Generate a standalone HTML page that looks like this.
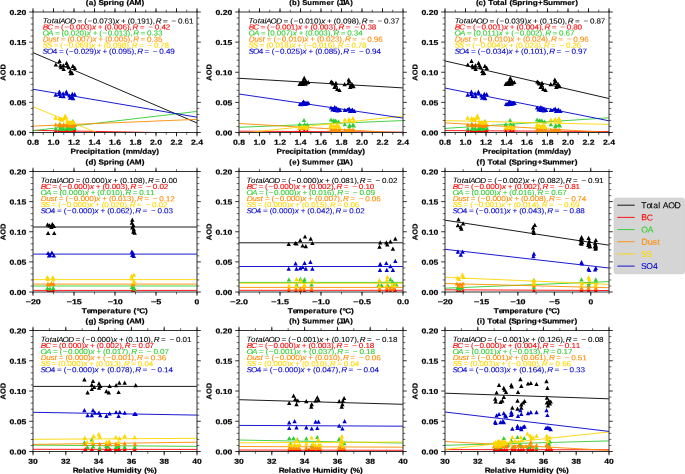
<!DOCTYPE html>
<html><head><meta charset="utf-8"><style>html,body{margin:0;padding:0;background:#fff;overflow:hidden}svg{display:block}text{white-space:pre}</style></head><body>
<svg width="685" height="474" viewBox="0 0 685 474" font-family="Liberation Sans, sans-serif">
<rect width="685" height="474" fill="#fff"/>
<filter id="bl" x="0" y="0" width="1" height="1"><feGaussianBlur stdDeviation="0.3"/></filter>
<g filter="url(#bl)">
<defs>
<clipPath id="c0"><rect x="33" y="12" width="164" height="120.5"/></clipPath>
<clipPath id="c1"><rect x="239" y="12" width="164" height="120.5"/></clipPath>
<clipPath id="c2"><rect x="445" y="12" width="164" height="120.5"/></clipPath>
<clipPath id="c3"><rect x="33" y="171.5" width="164" height="120.5"/></clipPath>
<clipPath id="c4"><rect x="239" y="171.5" width="164" height="120.5"/></clipPath>
<clipPath id="c5"><rect x="445" y="171.5" width="164" height="120.5"/></clipPath>
<clipPath id="c6"><rect x="33" y="330.5" width="164" height="121"/></clipPath>
<clipPath id="c7"><rect x="239" y="330.5" width="164" height="121"/></clipPath>
<clipPath id="c8"><rect x="445" y="330.5" width="164" height="121"/></clipPath>
</defs>
<g clip-path="url(#c0)">
<path fill="#000000" stroke="#000000" stroke-width="0.0" d="M55.8 62.4L53.6 66.6L58 66.6ZM59.5 58.7L57.3 62.9L61.7 62.9ZM60.3 63.4L58.1 67.6L62.5 67.6ZM61.1 65L58.9 69.2L63.3 69.2ZM63.4 63.2L61.2 67.4L65.6 67.4ZM63.7 66.9L61.5 71.1L65.9 71.1ZM66.6 60.8L64.4 65L68.8 65ZM67.4 63.4L65.2 67.6L69.6 67.6ZM68.7 65L66.5 69.2L70.9 69.2ZM70.3 68.7L68.1 72.9L72.5 72.9ZM70.8 71.1L68.6 75.3L73 75.3ZM72.9 63.7L70.7 67.9L75.1 67.9ZM74.8 65.8L72.6 70L77 70ZM72.1 70.8L69.9 75L74.3 75Z"/>
<line x1="33" y1="52.61" x2="197" y2="122.98" stroke="#000000" stroke-width="0.9"/>
<path fill="#ff0000" stroke="#ff0000" stroke-width="0.0" d="M55.8 128.5L53.6 132.7L58 132.7ZM59.5 128.5L57.3 132.7L61.7 132.7ZM60.3 128.5L58.1 132.7L62.5 132.7ZM61.1 128.5L58.9 132.7L63.3 132.7ZM63.4 128.5L61.2 132.7L65.6 132.7ZM63.7 128.5L61.5 132.7L65.9 132.7ZM66.6 128.5L64.4 132.7L68.8 132.7ZM67.4 128.5L65.2 132.7L69.6 132.7ZM68.7 128.5L66.5 132.7L70.9 132.7ZM70.3 128.5L68.1 132.7L72.5 132.7ZM70.8 128.5L68.6 132.7L73 132.7ZM72.9 128.5L70.7 132.7L75.1 132.7ZM74.8 128.5L72.6 132.7L77 132.7ZM72.1 128.5L69.9 132.7L74.3 132.7Z"/>
<line x1="33" y1="130.33" x2="197" y2="133.22" stroke="#ff0000" stroke-width="0.9"/>
<path fill="#32cd32" stroke="#32cd32" stroke-width="0.0" d="M55.8 126.4L53.6 130.6L58 130.6ZM59.5 122.1L57.3 126.3L61.7 126.3ZM60.3 125.9L58.1 130.1L62.5 130.1ZM61.1 126.7L58.9 130.9L63.3 130.9ZM63.4 126.1L61.2 130.3L65.6 130.3ZM63.7 126.7L61.5 130.9L65.9 130.9ZM66.6 125.9L64.4 130.1L68.8 130.1ZM67.4 126.4L65.2 130.6L69.6 130.6ZM68.7 126.1L66.5 130.3L70.9 130.3ZM70.3 126.7L68.1 130.9L72.5 130.9ZM70.8 125.4L68.6 129.6L73 129.6ZM72.9 119.1L70.7 123.3L75.1 123.3ZM74.8 125.9L72.6 130.1L77 130.1ZM72.1 126.4L69.9 130.6L74.3 130.6Z"/>
<line x1="33" y1="130.69" x2="197" y2="111.41" stroke="#32cd32" stroke-width="0.9"/>
<path fill="#ff8c00" stroke="#ff8c00" stroke-width="0.0" d="M55.8 122.4L53.6 126.6L58 126.6ZM59.5 122.9L57.3 127.1L61.7 127.1ZM60.3 122.2L58.1 126.4L62.5 126.4ZM61.1 123.4L58.9 127.6L63.3 127.6ZM63.4 122.9L61.2 127.1L65.6 127.1ZM63.7 122.2L61.5 126.4L65.9 126.4ZM66.6 123.4L64.4 127.6L68.8 127.6ZM67.4 122.7L65.2 126.9L69.6 126.9ZM68.7 123.1L66.5 127.3L70.9 127.3ZM70.3 122.4L68.1 126.6L72.5 126.6ZM70.8 123.4L68.6 127.6L73 127.6ZM72.9 121.9L70.7 126.1L75.1 126.1ZM74.8 122.9L72.6 127.1L77 127.1ZM72.1 123.7L69.9 127.9L74.3 127.9Z"/>
<line x1="33" y1="126.11" x2="197" y2="119.37" stroke="#ff8c00" stroke-width="0.9"/>
<path fill="#ffd700" stroke="#ffd700" stroke-width="0.0" d="M55.6 115.5L53.4 119.7L57.8 119.7ZM59.6 116L57.4 120.2L61.8 120.2ZM60.6 117.3L58.4 121.5L62.8 121.5ZM65.2 113.5L63 117.7L67.4 117.7ZM66.2 115.2L64 119.4L68.4 119.4ZM64.2 115.5L62 119.7L66.4 119.7ZM69.3 120.1L67.1 124.3L71.5 124.3ZM71.3 120.3L69.1 124.5L73.5 124.5ZM73.8 120.3L71.6 124.5L76 124.5ZM62.7 117.5L60.5 121.7L64.9 121.7ZM72.3 119.6L70.1 123.8L74.5 123.8ZM70.3 120.6L68.1 124.8L72.5 124.8ZM67.2 119.6L65 123.8L69.4 123.8ZM61.7 117L59.5 121.2L63.9 121.2Z"/>
<line x1="33" y1="106.71" x2="197" y2="173.23" stroke="#ffd700" stroke-width="0.9"/>
<path fill="#0000cd" stroke="#0000cd" stroke-width="0.0" d="M55.7 92.5L53.5 96.7L57.9 96.7ZM59.4 89.5L57.2 93.7L61.6 93.7ZM59.2 91.7L57 95.9L61.4 95.9ZM60.5 93.9L58.3 98.1L62.7 98.1ZM63.1 91.2L60.9 95.4L65.3 95.4ZM63.6 94.1L61.4 98.3L65.8 98.3ZM66.4 89.5L64.2 93.7L68.6 93.7ZM66.9 91.2L64.7 95.4L69.1 95.4ZM69.3 93.4L67.1 97.6L71.5 97.6ZM70.1 95.6L67.9 99.8L72.3 99.8ZM71.9 94.7L69.7 98.9L74.1 98.9ZM72.3 91.7L70.1 95.9L74.5 95.9ZM74.7 92.1L72.5 96.3L76.9 96.3ZM73.2 96L71 100.2L75.4 100.2Z"/>
<line x1="33" y1="89.24" x2="197" y2="117.2" stroke="#0000cd" stroke-width="0.9"/>
</g>
<rect x="33" y="12" width="164" height="120.5" fill="none" stroke="#333" stroke-width="1.0"/>
<path d="M33 132.5v3.8M33 12v-3.8M53.5 132.5v3.8M53.5 12v-3.8M74 132.5v3.8M74 12v-3.8M94.5 132.5v3.8M94.5 12v-3.8M115 132.5v3.8M115 12v-3.8M135.5 132.5v3.8M135.5 12v-3.8M156 132.5v3.8M156 12v-3.8M176.5 132.5v3.8M176.5 12v-3.8M197 132.5v3.8M197 12v-3.8M33 132.5h-3.8M197 132.5h3.8M33 102.38h-3.8M197 102.38h3.8M33 72.25h-3.8M197 72.25h3.8M33 42.12h-3.8M197 42.12h3.8M33 12h-3.8M197 12h3.8" stroke="#000" stroke-width="0.8" fill="none"/>
<path d="M33 132.5v2.3M33 12v-2.3M43.25 132.5v2.3M43.25 12v-2.3M53.5 132.5v2.3M53.5 12v-2.3M63.75 132.5v2.3M63.75 12v-2.3M74 132.5v2.3M74 12v-2.3M84.25 132.5v2.3M84.25 12v-2.3M94.5 132.5v2.3M94.5 12v-2.3M104.75 132.5v2.3M104.75 12v-2.3M115 132.5v2.3M115 12v-2.3M125.25 132.5v2.3M125.25 12v-2.3M135.5 132.5v2.3M135.5 12v-2.3M145.75 132.5v2.3M145.75 12v-2.3M156 132.5v2.3M156 12v-2.3M166.25 132.5v2.3M166.25 12v-2.3M176.5 132.5v2.3M176.5 12v-2.3M186.75 132.5v2.3M186.75 12v-2.3M197 132.5v2.3M197 12v-2.3M33 126.47h-2.3M197 126.47h2.3M33 120.45h-2.3M197 120.45h2.3M33 114.42h-2.3M197 114.42h2.3M33 108.4h-2.3M197 108.4h2.3M33 96.35h-2.3M197 96.35h2.3M33 90.32h-2.3M197 90.32h2.3M33 84.3h-2.3M197 84.3h2.3M33 78.28h-2.3M197 78.28h2.3M33 66.23h-2.3M197 66.23h2.3M33 60.2h-2.3M197 60.2h2.3M33 54.17h-2.3M197 54.17h2.3M33 48.15h-2.3M197 48.15h2.3M33 36.1h-2.3M197 36.1h2.3M33 30.08h-2.3M197 30.08h2.3M33 24.05h-2.3M197 24.05h2.3M33 18.03h-2.3M197 18.03h2.3" stroke="#000" stroke-width="0.6" fill="none"/>
<text y="144.7" font-size="7.21" fill="#000" stroke="#000" stroke-width="0.2" transform="matrix(1.20219 0.00100 0 1 -5.4544 -0.0306)"><tspan x="26.94 30.99 33.02" font-weight="bold">0.8</tspan></text>
<text y="144.7" font-size="7.21" fill="#000" stroke="#000" stroke-width="0.2" transform="matrix(1.20219 0.00100 0 1 -9.5993 -0.0511)"><tspan x="47.44 51.49 53.52" font-weight="bold">1.0</tspan></text>
<text y="144.7" font-size="7.21" fill="#000" stroke="#000" stroke-width="0.2" transform="matrix(1.20219 0.00100 0 1 -13.7442 -0.0716)"><tspan x="67.94 71.99 74.02" font-weight="bold">1.2</tspan></text>
<text y="144.7" font-size="7.21" fill="#000" stroke="#000" stroke-width="0.2" transform="matrix(1.20219 0.00100 0 1 -17.8891 -0.0921)"><tspan x="88.44 92.49 94.52" font-weight="bold">1.4</tspan></text>
<text y="144.7" font-size="7.21" fill="#000" stroke="#000" stroke-width="0.2" transform="matrix(1.20219 0.00100 0 1 -22.0339 -0.1126)"><tspan x="108.94 112.99 115.02" font-weight="bold">1.6</tspan></text>
<text y="144.7" font-size="7.21" fill="#000" stroke="#000" stroke-width="0.2" transform="matrix(1.20219 0.00100 0 1 -26.1788 -0.1331)"><tspan x="129.44 133.49 135.52" font-weight="bold">1.8</tspan></text>
<text y="144.7" font-size="7.21" fill="#000" stroke="#000" stroke-width="0.2" transform="matrix(1.20219 0.00100 0 1 -30.3237 -0.1536)"><tspan x="149.94 153.99 156.02" font-weight="bold">2.0</tspan></text>
<text y="144.7" font-size="7.21" fill="#000" stroke="#000" stroke-width="0.2" transform="matrix(1.20219 0.00100 0 1 -34.4686 -0.1741)"><tspan x="170.44 174.49 176.52" font-weight="bold">2.2</tspan></text>
<text y="144.7" font-size="7.21" fill="#000" stroke="#000" stroke-width="0.2" transform="matrix(1.20219 0.00100 0 1 -38.6134 -0.1946)"><tspan x="190.94 194.99 197.02" font-weight="bold">2.4</tspan></text>
<text y="135.5" font-size="7.21" fill="#000" stroke="#000" stroke-width="0.2" transform="matrix(1.19592 0.00100 0 1 -1.8657 -0.0155)"><tspan x="9.5 13.56 15.61 19.57" font-weight="bold">0.00</tspan></text>
<text y="105.38" font-size="7.21" fill="#000" stroke="#000" stroke-width="0.2" transform="matrix(1.19592 0.00100 0 1 -1.8657 -0.0155)"><tspan x="9.5 13.56 15.61 19.57" font-weight="bold">0.05</tspan></text>
<text y="75.25" font-size="7.21" fill="#000" stroke="#000" stroke-width="0.2" transform="matrix(1.19592 0.00100 0 1 -1.8657 -0.0155)"><tspan x="9.5 13.56 15.61 19.57" font-weight="bold">0.10</tspan></text>
<text y="45.12" font-size="7.21" fill="#000" stroke="#000" stroke-width="0.2" transform="matrix(1.19592 0.00100 0 1 -1.8657 -0.0155)"><tspan x="9.5 13.56 15.61 19.57" font-weight="bold">0.15</tspan></text>
<text y="15" font-size="7.21" fill="#000" stroke="#000" stroke-width="0.2" transform="matrix(1.19592 0.00100 0 1 -1.8657 -0.0155)"><tspan x="9.5 13.56 15.61 19.57" font-weight="bold">0.20</tspan></text>
<text y="153.8" font-size="7.21" fill="#000" stroke="#000" stroke-width="0.2" transform="matrix(1.13876 0.00100 0 1 -9.8272 -0.1134)"><tspan x="70.6 75.27 78.16 81.96 85.75 87.71 92.07 94.33 96.96 101.21 103.86 105.73 109.91 116.48 118.95 125.17 131.58 133.61 137.96 141.92 145.85" font-weight="bold">Precipitation(mm/day)</tspan></text>
<text y="5" font-size="7.21" fill="#000" stroke="#000" stroke-width="0.2" transform="matrix(1.13776 0.00100 0 1 -11.7824 -0.1134)"><tspan x="85.69 88.27 92.46 96.85 101.35 105.76 108.66 110.61 114.88 121.46 123.74 128.63 134.77" font-weight="bold">(a)Spring(AM)</tspan></text>
<g transform="translate(5.6 72.25) rotate(-90)"><text y="0" font-size="7.21" fill="#000" stroke="#000" stroke-width="0.2" transform="matrix(1.04186 0.00100 0 1 0.3492 0.0028)"><tspan x="-8.42 -3.32 2.36" font-weight="bold">AOD</tspan></text></g>
<text y="23.45" font-size="7.31" fill="#000000" stroke="#000000" stroke-width="0.08" transform="matrix(1.10676 0.00100 0 1 -4.5906 -0.1160)"><tspan x="42.67 46.68 50.83 52.94 56.94 58.31 62.49 67.55" font-style="italic">TotalAOD</tspan><tspan x="74.28 80.24 83.15 87.85 91.84 93.8 97.77 101.73 105.75">=(−0.073)</tspan><tspan x="108.2" font-style="italic">x</tspan><tspan x="113.56 119.52 121.91 125.9 127.85 131.82 135.79 139.8 142.21">+(0.191),</tspan><tspan x="144.96" font-style="italic">R</tspan><tspan x="151.46 159.11 165.02 169.01 170.97 174.93">=−0.61</tspan></text>
<text y="29.5" font-size="7.31" fill="#ff0000" stroke="#ff0000" stroke-width="0.08" transform="matrix(1.11736 0.00100 0 1 -5.0464 -0.1044)"><tspan x="42.68 46.75" font-style="italic">BC</tspan><tspan x="53.2 59.12 61.99 66.64 70.61 72.53 76.46 80.39 84.38">=(−0.003)</tspan><tspan x="86.8" font-style="italic">x</tspan><tspan x="92.11 98.02 100.37 104.34 106.27 110.2 114.12 118.11 120.5">+(0.006),</tspan><tspan x="123.2" font-style="italic">R</tspan><tspan x="129.64 137.22 143.08 147.04 148.97 152.9">=−0.42</tspan></text>
<text y="35.55" font-size="7.31" fill="#32cd32" stroke="#32cd32" stroke-width="0.08" transform="matrix(1.10865 0.00100 0 1 -4.6719 -0.1005)"><tspan x="42.6 47.59" font-style="italic">OA</tspan><tspan x="53.84 59.79 62.17 66.16 68.11 72.07 76.03 80.04">=(0.020)</tspan><tspan x="82.48" font-style="italic">x</tspan><tspan x="87.84 93.79 96.69 101.38 105.37 107.32 111.28 115.24 119.25 121.65">+(−0.013),</tspan><tspan x="124.39" font-style="italic">R</tspan><tspan x="130.88 136.78 140.77 142.72 146.68">=0.33</tspan></text>
<text y="41.6" font-size="7.31" fill="#ff8c00" stroke="#ff8c00" stroke-width="0.08" transform="matrix(1.10696 0.00100 0 1 -4.5994 -0.1005)"><tspan x="42.76 47.74 51.55 55.2" font-style="italic">Dust</tspan><tspan x="59.13 65.09 67.47 71.47 73.42 77.39 81.35 85.37">=(0.007)</tspan><tspan x="87.82" font-style="italic">x</tspan><tspan x="93.18 99.14 101.52 105.51 107.47 111.44 115.4 119.42 121.83">+(0.005),</tspan><tspan x="124.57" font-style="italic">R</tspan><tspan x="131.07 136.98 140.97 142.92 146.89">=0.35</tspan></text>
<text y="47.65" font-size="7.31" fill="#ffd700" stroke="#ffd700" stroke-width="0.08" transform="matrix(1.11404 0.00100 0 1 -4.9037 -0.1038)"><tspan x="42.53 46.46" font-style="italic">SS</tspan><tspan x="52.53 58.46 61.34 66.01 69.98 71.92 75.86 79.8 83.79">=(−0.069)</tspan><tspan x="86.22" font-style="italic">x</tspan><tspan x="91.55 97.48 99.84 103.81 105.75 109.69 113.63 117.63 120.02">+(0.098),</tspan><tspan x="122.74" font-style="italic">R</tspan><tspan x="129.2 136.8 142.67 146.65 148.1 152.04">=−0.78</tspan></text>
<text y="53.7" font-size="7.31" fill="#0000cd" stroke="#0000cd" stroke-width="0.08" transform="matrix(1.11410 0.00100 0 1 -4.9063 -0.1067)"><tspan x="42.53 46.52" font-style="italic">SO</tspan><tspan x="51.74 57.41 63.34 66.22 70.89 74.86 76.8 80.74 84.57 88.57">4=(−0.029)</tspan><tspan x="91" font-style="italic">x</tspan><tspan x="96.32 102.25 104.61 108.59 110.52 114.46 118.4 122.4 124.79">+(0.095),</tspan><tspan x="127.51" font-style="italic">R</tspan><tspan x="133.97 141.57 147.44 151.42 153.35 157.29">=−0.49</tspan></text>
<g clip-path="url(#c1)">
<path fill="#000000" stroke="#000000" stroke-width="0.0" d="M304.2 75.7L302 79.9L306.4 79.9ZM303.2 78.2L301 82.4L305.4 82.4ZM305.6 78.2L303.4 82.4L307.8 82.4ZM301 80.7L298.8 84.9L303.2 84.9ZM303.8 80.7L301.6 84.9L306 84.9ZM306.6 80.3L304.4 84.5L308.8 84.5ZM299.6 81.7L297.4 85.9L301.8 85.9ZM308.2 79.9L306 84.1L310.4 84.1ZM302.5 81.9L300.3 86.1L304.7 86.1ZM305.5 81.5L303.3 85.7L307.7 85.7ZM331.2 79.4L329 83.6L333.4 83.6ZM333.2 81.4L331 85.6L335.4 85.6ZM335.9 80.7L333.7 84.9L338.1 84.9ZM334.5 84.8L332.3 89L336.7 89ZM337.2 86.8L335 91L339.4 91ZM339.5 87.9L337.3 92.1L341.7 92.1ZM336 83.4L333.8 87.6L338.2 87.6ZM332.5 80.4L330.3 84.6L334.7 84.6ZM344.7 82.1L342.5 86.3L346.9 86.3ZM348.7 77.4L346.5 81.6L350.9 81.6ZM348.3 80.7L346.1 84.9L350.5 84.9ZM350.8 82.8L348.6 87L353 87ZM353.5 84.1L351.3 88.3L355.7 88.3ZM350.2 84.8L348 89L352.4 89ZM352 81.9L349.8 86.1L354.2 86.1ZM349.5 78.9L347.3 83.1L351.7 83.1Z"/>
<line x1="239" y1="78.28" x2="403" y2="87.91" stroke="#000000" stroke-width="0.9"/>
<path fill="#ff0000" stroke="#ff0000" stroke-width="0.0" d="M299.7 128.9L297.5 133.1L301.9 133.1ZM304 128.9L301.8 133.1L306.2 133.1ZM304.5 128.9L302.3 133.1L306.7 133.1ZM307.3 128.9L305.1 133.1L309.5 133.1ZM331 128.9L328.8 133.1L333.2 133.1ZM333.4 128.9L331.2 133.1L335.6 133.1ZM335.8 128.9L333.6 133.1L338 133.1ZM334.8 128.9L332.6 133.1L337 133.1ZM338.6 128.9L336.4 133.1L340.8 133.1ZM344.8 128.9L342.6 133.1L347 133.1ZM349.1 128.9L346.9 133.1L351.3 133.1ZM349.6 128.9L347.4 133.1L351.8 133.1ZM352.9 128.9L350.7 133.1L355.1 133.1ZM353.8 128.9L351.6 133.1L356 133.1Z"/>
<line x1="239" y1="131.17" x2="403" y2="132.14" stroke="#ff0000" stroke-width="0.9"/>
<path fill="#32cd32" stroke="#32cd32" stroke-width="0.0" d="M299.7 122.1L297.5 126.3L301.9 126.3ZM304 117.9L301.8 122.1L306.2 122.1ZM304.5 121.9L302.3 126.1L306.7 126.1ZM307.3 122.4L305.1 126.6L309.5 126.6ZM331 117.4L328.8 121.6L333.2 121.6ZM333.4 118.2L331.2 122.4L335.6 122.4ZM335.8 118.4L333.6 122.6L338 122.6ZM334.8 118.9L332.6 123.1L337 123.1ZM338.6 119.4L336.4 123.6L340.8 123.6ZM344.8 122.1L342.6 126.3L347 126.3ZM349.1 124L346.9 128.2L351.3 128.2ZM349.6 122.9L347.4 127.1L351.8 127.1ZM352.9 122.6L350.7 126.8L355.1 126.8ZM353.8 123.4L351.6 127.6L356 127.6Z"/>
<line x1="239" y1="127.32" x2="403" y2="120.57" stroke="#32cd32" stroke-width="0.9"/>
<path fill="#ff8c00" stroke="#ff8c00" stroke-width="0.0" d="M299.7 125.9L297.5 130.1L301.9 130.1ZM304 125.4L301.8 129.6L306.2 129.6ZM304.5 125.9L302.3 130.1L306.7 130.1ZM307.3 125.6L305.1 129.8L309.5 129.8ZM331 127.4L328.8 131.6L333.2 131.6ZM333.4 127.9L331.2 132.1L335.6 132.1ZM335.8 126.9L333.6 131.1L338 131.1ZM334.8 128.4L332.6 132.6L337 132.6ZM338.6 127.9L336.4 132.1L340.8 132.1ZM344.8 127.9L342.6 132.1L347 132.1ZM349.1 127.4L346.9 131.6L351.3 131.6ZM349.6 128.4L347.4 132.6L351.8 132.6ZM352.9 127.7L350.7 131.9L355.1 131.9ZM353.8 128.2L351.6 132.4L356 132.4ZM302 126.1L299.8 130.3L304.2 130.3ZM306 125.9L303.8 130.1L308.2 130.1ZM332 128.4L329.8 132.6L334.2 132.6ZM336 128.5L333.8 132.7L338.2 132.7ZM340 128.3L337.8 132.5L342.2 132.5ZM347 128.4L344.8 132.6L349.2 132.6ZM351 128.3L348.8 132.5L353.2 132.5Z"/>
<line x1="239" y1="123.46" x2="403" y2="133.1" stroke="#ff8c00" stroke-width="0.9"/>
<path fill="#ffd700" stroke="#ffd700" stroke-width="0.0" d="M299.7 125.4L297.5 129.6L301.9 129.6ZM304 124.7L301.8 128.9L306.2 128.9ZM304.5 125.1L302.3 129.3L306.7 129.3ZM307.3 125.7L305.1 129.9L309.5 129.9ZM331 122.4L328.8 126.6L333.2 126.6ZM333.4 123.4L331.2 127.6L335.6 127.6ZM335.8 123.9L333.6 128.1L338 128.1ZM334.8 124.9L332.6 129.1L337 129.1ZM338.6 123.7L336.4 127.9L340.8 127.9ZM344.8 117.4L342.6 121.6L347 121.6ZM349.1 116.9L346.9 121.1L351.3 121.1ZM349.6 118.4L347.4 122.6L351.8 122.6ZM352.9 116L350.7 120.2L355.1 120.2ZM353.8 118.9L351.6 123.1L356 123.1ZM302 125.1L299.8 129.3L304.2 129.3ZM306 125.2L303.8 129.4L308.2 129.4ZM330.5 124.4L328.3 128.6L332.7 128.6ZM337 122.9L334.8 127.1L339.2 127.1ZM339.5 124.9L337.3 129.1L341.7 129.1Z"/>
<line x1="239" y1="133.46" x2="403" y2="116.11" stroke="#ffd700" stroke-width="0.9"/>
<path fill="#0000cd" stroke="#0000cd" stroke-width="0.0" d="M300 101.7L297.8 105.9L302.2 105.9ZM302.5 100.7L300.3 104.9L304.7 104.9ZM303.5 99.4L301.3 103.6L305.7 103.6ZM305 100.4L302.8 104.6L307.2 104.6ZM307 100.4L304.8 104.6L309.2 104.6ZM308.5 100.9L306.3 105.1L310.7 105.1ZM301.5 102.1L299.3 106.3L303.7 106.3ZM304.5 101.7L302.3 105.9L306.7 105.9ZM306.5 101.6L304.3 105.8L308.7 105.8ZM331 105.4L328.8 109.6L333.2 109.6ZM333 106.4L330.8 110.6L335.2 110.6ZM334.8 104.9L332.6 109.1L337 109.1ZM336.7 105.9L334.5 110.1L338.9 110.1ZM338.6 107.3L336.4 111.5L340.8 111.5ZM335 107.9L332.8 112.1L337.2 112.1ZM332.5 107.4L330.3 111.6L334.7 111.6ZM337.5 108.2L335.3 112.4L339.7 112.4ZM340 107.9L337.8 112.1L342.2 112.1ZM344.8 107.7L342.6 111.9L347 111.9ZM347.5 107.4L345.3 111.6L349.7 111.6ZM349.1 106.4L346.9 110.6L351.3 110.6ZM351 108.2L348.8 112.4L353.2 112.4ZM352.4 107.4L350.2 111.6L354.6 111.6ZM354.3 108.7L352.1 112.9L356.5 112.9ZM350 108.9L347.8 113.1L352.2 113.1Z"/>
<line x1="239" y1="94" x2="403" y2="118.1" stroke="#0000cd" stroke-width="0.9"/>
</g>
<rect x="239" y="12" width="164" height="120.5" fill="none" stroke="#333" stroke-width="1.0"/>
<path d="M239 132.5v3.8M239 12v-3.8M259.5 132.5v3.8M259.5 12v-3.8M280 132.5v3.8M280 12v-3.8M300.5 132.5v3.8M300.5 12v-3.8M321 132.5v3.8M321 12v-3.8M341.5 132.5v3.8M341.5 12v-3.8M362 132.5v3.8M362 12v-3.8M382.5 132.5v3.8M382.5 12v-3.8M403 132.5v3.8M403 12v-3.8M239 132.5h-3.8M403 132.5h3.8M239 102.38h-3.8M403 102.38h3.8M239 72.25h-3.8M403 72.25h3.8M239 42.12h-3.8M403 42.12h3.8M239 12h-3.8M403 12h3.8" stroke="#000" stroke-width="0.8" fill="none"/>
<path d="M239 132.5v2.3M239 12v-2.3M249.25 132.5v2.3M249.25 12v-2.3M259.5 132.5v2.3M259.5 12v-2.3M269.75 132.5v2.3M269.75 12v-2.3M280 132.5v2.3M280 12v-2.3M290.25 132.5v2.3M290.25 12v-2.3M300.5 132.5v2.3M300.5 12v-2.3M310.75 132.5v2.3M310.75 12v-2.3M321 132.5v2.3M321 12v-2.3M331.25 132.5v2.3M331.25 12v-2.3M341.5 132.5v2.3M341.5 12v-2.3M351.75 132.5v2.3M351.75 12v-2.3M362 132.5v2.3M362 12v-2.3M372.25 132.5v2.3M372.25 12v-2.3M382.5 132.5v2.3M382.5 12v-2.3M392.75 132.5v2.3M392.75 12v-2.3M403 132.5v2.3M403 12v-2.3M239 126.47h-2.3M403 126.47h2.3M239 120.45h-2.3M403 120.45h2.3M239 114.42h-2.3M403 114.42h2.3M239 108.4h-2.3M403 108.4h2.3M239 96.35h-2.3M403 96.35h2.3M239 90.32h-2.3M403 90.32h2.3M239 84.3h-2.3M403 84.3h2.3M239 78.28h-2.3M403 78.28h2.3M239 66.23h-2.3M403 66.23h2.3M239 60.2h-2.3M403 60.2h2.3M239 54.17h-2.3M403 54.17h2.3M239 48.15h-2.3M403 48.15h2.3M239 36.1h-2.3M403 36.1h2.3M239 30.08h-2.3M403 30.08h2.3M239 24.05h-2.3M403 24.05h2.3M239 18.03h-2.3M403 18.03h2.3" stroke="#000" stroke-width="0.6" fill="none"/>
<text y="144.7" font-size="7.21" fill="#000" stroke="#000" stroke-width="0.2" transform="matrix(1.20219 0.00100 0 1 -47.1054 -0.2366)"><tspan x="232.94 236.99 239.02" font-weight="bold">0.8</tspan></text>
<text y="144.7" font-size="7.21" fill="#000" stroke="#000" stroke-width="0.2" transform="matrix(1.20219 0.00100 0 1 -51.2502 -0.2571)"><tspan x="253.44 257.49 259.52" font-weight="bold">1.0</tspan></text>
<text y="144.7" font-size="7.21" fill="#000" stroke="#000" stroke-width="0.2" transform="matrix(1.20219 0.00100 0 1 -55.3951 -0.2776)"><tspan x="273.94 277.99 280.02" font-weight="bold">1.2</tspan></text>
<text y="144.7" font-size="7.21" fill="#000" stroke="#000" stroke-width="0.2" transform="matrix(1.20219 0.00100 0 1 -59.5400 -0.2981)"><tspan x="294.44 298.49 300.52" font-weight="bold">1.4</tspan></text>
<text y="144.7" font-size="7.21" fill="#000" stroke="#000" stroke-width="0.2" transform="matrix(1.20219 0.00100 0 1 -63.6849 -0.3186)"><tspan x="314.94 318.99 321.02" font-weight="bold">1.6</tspan></text>
<text y="144.7" font-size="7.21" fill="#000" stroke="#000" stroke-width="0.2" transform="matrix(1.20219 0.00100 0 1 -67.8297 -0.3391)"><tspan x="335.44 339.49 341.52" font-weight="bold">1.8</tspan></text>
<text y="144.7" font-size="7.21" fill="#000" stroke="#000" stroke-width="0.2" transform="matrix(1.20219 0.00100 0 1 -71.9746 -0.3596)"><tspan x="355.94 359.99 362.02" font-weight="bold">2.0</tspan></text>
<text y="144.7" font-size="7.21" fill="#000" stroke="#000" stroke-width="0.2" transform="matrix(1.20219 0.00100 0 1 -76.1195 -0.3801)"><tspan x="376.44 380.49 382.52" font-weight="bold">2.2</tspan></text>
<text y="144.7" font-size="7.21" fill="#000" stroke="#000" stroke-width="0.2" transform="matrix(1.20219 0.00100 0 1 -80.2643 -0.4006)"><tspan x="396.94 400.99 403.02" font-weight="bold">2.4</tspan></text>
<text y="135.5" font-size="7.21" fill="#000" stroke="#000" stroke-width="0.2" transform="matrix(1.19592 0.00100 0 1 -42.2261 -0.2215)"><tspan x="215.5 219.56 221.61 225.57" font-weight="bold">0.00</tspan></text>
<text y="105.38" font-size="7.21" fill="#000" stroke="#000" stroke-width="0.2" transform="matrix(1.19592 0.00100 0 1 -42.2261 -0.2215)"><tspan x="215.5 219.56 221.61 225.57" font-weight="bold">0.05</tspan></text>
<text y="75.25" font-size="7.21" fill="#000" stroke="#000" stroke-width="0.2" transform="matrix(1.19592 0.00100 0 1 -42.2261 -0.2215)"><tspan x="215.5 219.56 221.61 225.57" font-weight="bold">0.10</tspan></text>
<text y="45.12" font-size="7.21" fill="#000" stroke="#000" stroke-width="0.2" transform="matrix(1.19592 0.00100 0 1 -42.2261 -0.2215)"><tspan x="215.5 219.56 221.61 225.57" font-weight="bold">0.15</tspan></text>
<text y="15" font-size="7.21" fill="#000" stroke="#000" stroke-width="0.2" transform="matrix(1.19592 0.00100 0 1 -42.2261 -0.2215)"><tspan x="215.5 219.56 221.61 225.57" font-weight="bold">0.20</tspan></text>
<text y="153.8" font-size="7.21" fill="#000" stroke="#000" stroke-width="0.2" transform="matrix(1.13876 0.00100 0 1 -38.4126 -0.3194)"><tspan x="276.6 281.27 284.16 287.96 291.75 293.71 298.07 300.33 302.96 307.21 309.86 311.73 315.91 322.48 324.95 331.17 337.58 339.61 343.96 347.92 351.85" font-weight="bold">Precipitation(mm/day)</tspan></text>
<text y="5" font-size="7.21" fill="#000" stroke="#000" stroke-width="0.2" transform="matrix(1.06112 0.00100 0 1 -17.6566 -0.3194)"><tspan x="289.15 291.91 296.66 301.46 306.26 310.87 317.55 324.26 328.62 334.09 335.95 338.33 341.4 346.75" font-weight="bold">(b)Summer(JJA)</tspan></text>
<g transform="translate(211.6 72.25) rotate(-90)"><text y="0" font-size="7.21" fill="#000" stroke="#000" stroke-width="0.2" transform="matrix(1.04186 0.00100 0 1 0.3492 0.0028)"><tspan x="-8.42 -3.32 2.36" font-weight="bold">AOD</tspan></text></g>
<text y="23.45" font-size="7.31" fill="#000000" stroke="#000000" stroke-width="0.08" transform="matrix(1.10676 0.00100 0 1 -26.5829 -0.3220)"><tspan x="248.67 252.68 256.83 258.94 262.94 264.31 268.49 273.55" font-style="italic">TotalAOD</tspan><tspan x="280.28 286.24 289.15 293.85 297.84 299.8 303.77 307.73 311.75">=(−0.010)</tspan><tspan x="314.2" font-style="italic">x</tspan><tspan x="319.56 325.52 327.91 331.9 333.85 337.82 341.79 345.8 348.21">+(0.098),</tspan><tspan x="350.96" font-style="italic">R</tspan><tspan x="357.46 365.11 371.02 375.01 376.97 380.93">=−0.37</tspan></text>
<text y="29.5" font-size="7.31" fill="#ff0000" stroke="#ff0000" stroke-width="0.08" transform="matrix(1.11736 0.00100 0 1 -29.2224 -0.3104)"><tspan x="248.68 252.75" font-style="italic">BC</tspan><tspan x="259.2 265.12 267.99 272.64 276.61 278.53 282.46 286.39 290.38">=(−0.001)</tspan><tspan x="292.8" font-style="italic">x</tspan><tspan x="298.11 304.02 306.37 310.34 312.27 316.2 320.12 324.11 326.5">+(0.003),</tspan><tspan x="329.2" font-style="italic">R</tspan><tspan x="335.64 343.22 349.08 353.04 354.97 358.9">=−0.38</tspan></text>
<text y="35.55" font-size="7.31" fill="#32cd32" stroke="#32cd32" stroke-width="0.08" transform="matrix(1.09763 0.00100 0 1 -24.3098 -0.3036)"><tspan x="248.63 253.66" font-style="italic">OA</tspan><tspan x="259.97 265.97 268.38 272.4 274.38 278.38 282.38 286.42">=(0.007)</tspan><tspan x="288.9" font-style="italic">x</tspan><tspan x="294.31 300.31 302.72 306.74 308.72 312.72 316.72 320.76 323.19">+(0.003),</tspan><tspan x="325.97" font-style="italic">R</tspan><tspan x="332.52 338.48 342.49 344.48 348.48">=0.34</tspan></text>
<text y="41.6" font-size="7.31" fill="#ff8c00" stroke="#ff8c00" stroke-width="0.08" transform="matrix(1.12648 0.00100 0 1 -31.4928 -0.3137)"><tspan x="248.72 253.62 257.37 260.97" font-style="italic">Dust</tspan><tspan x="264.82 270.69 273.53 278.15 282.09 283.99 287.89 291.79 295.75">=(−0.010)</tspan><tspan x="298.14" font-style="italic">x</tspan><tspan x="303.41 309.28 311.61 315.55 317.45 321.35 325.24 329.2 331.57">+(0.023),</tspan><tspan x="334.24" font-style="italic">R</tspan><tspan x="340.64 348.16 353.97 357.91 359.81 363.71">=−0.96</tspan></text>
<text y="47.65" font-size="7.31" fill="#ffd700" stroke="#ffd700" stroke-width="0.08" transform="matrix(1.10364 0.00100 0 1 -25.8067 -0.3055)"><tspan x="248.55 252.51" font-style="italic">SS</tspan><tspan x="258.64 264.61 267.01 271.01 272.97 276.95 280.93 284.95">=(0.018)</tspan><tspan x="287.41" font-style="italic">x</tspan><tspan x="292.79 298.76 301.69 306.4 310.4 312.36 316.34 320.32 324.34 326.76">+(−0.016),</tspan><tspan x="329.51" font-style="italic">R</tspan><tspan x="336.03 341.96 345.96 347.44 351.42">=0.78</tspan></text>
<text y="53.7" font-size="7.31" fill="#0000cd" stroke="#0000cd" stroke-width="0.08" transform="matrix(1.11410 0.00100 0 1 -28.4108 -0.3128)"><tspan x="248.53 252.52" font-style="italic">SO</tspan><tspan x="257.74 263.41 269.34 272.22 276.89 280.86 282.8 286.74 290.68 294.68">4=(−0.025)</tspan><tspan x="297.11" font-style="italic">x</tspan><tspan x="302.43 308.36 310.72 314.69 316.63 320.57 324.51 328.51 330.9">+(0.085),</tspan><tspan x="333.62" font-style="italic">R</tspan><tspan x="340.08 347.68 353.55 357.52 359.46 363.4">=−0.94</tspan></text>
<g clip-path="url(#c2)">
<path fill="#000000" stroke="#000000" stroke-width="0.0" d="M467.8 62.4L465.6 66.6L470 66.6ZM471.5 58.7L469.3 62.9L473.7 62.9ZM472.3 63.4L470.1 67.6L474.5 67.6ZM473.1 65L470.9 69.2L475.3 69.2ZM475.4 63.2L473.2 67.4L477.6 67.4ZM475.7 66.9L473.5 71.1L477.9 71.1ZM478.6 60.8L476.4 65L480.8 65ZM479.4 63.4L477.2 67.6L481.6 67.6ZM480.7 65L478.5 69.2L482.9 69.2ZM482.3 68.7L480.1 72.9L484.5 72.9ZM482.8 71.1L480.6 75.3L485 75.3ZM484.9 63.7L482.7 67.9L487.1 67.9ZM486.8 65.8L484.6 70L489 70ZM484.1 70.8L481.9 75L486.3 75ZM510.3 75.7L508.1 79.9L512.5 79.9ZM509.3 78.2L507.1 82.4L511.5 82.4ZM511.7 78.2L509.5 82.4L513.9 82.4ZM507.1 80.7L504.9 84.9L509.3 84.9ZM509.9 80.7L507.7 84.9L512.1 84.9ZM512.7 80.3L510.5 84.5L514.9 84.5ZM505.7 81.7L503.5 85.9L507.9 85.9ZM514.3 79.9L512.1 84.1L516.5 84.1ZM508.6 81.9L506.4 86.1L510.8 86.1ZM511.6 81.5L509.4 85.7L513.8 85.7ZM537.3 79.4L535.1 83.6L539.5 83.6ZM539.3 81.4L537.1 85.6L541.5 85.6ZM542 80.7L539.8 84.9L544.2 84.9ZM540.6 84.8L538.4 89L542.8 89ZM543.3 86.8L541.1 91L545.5 91ZM545.6 87.9L543.4 92.1L547.8 92.1ZM542.1 83.4L539.9 87.6L544.3 87.6ZM538.6 80.4L536.4 84.6L540.8 84.6ZM550.8 82.1L548.6 86.3L553 86.3ZM554.8 77.4L552.6 81.6L557 81.6ZM554.4 80.7L552.2 84.9L556.6 84.9ZM556.9 82.8L554.7 87L559.1 87ZM559.6 84.1L557.4 88.3L561.8 88.3ZM556.3 84.8L554.1 89L558.5 89ZM558.1 81.9L555.9 86.1L560.3 86.1ZM555.6 78.9L553.4 83.1L557.8 83.1Z"/>
<line x1="445" y1="60.92" x2="609" y2="98.52" stroke="#000000" stroke-width="0.9"/>
<path fill="#ff0000" stroke="#ff0000" stroke-width="0.0" d="M467.8 128.5L465.6 132.7L470 132.7ZM471.5 128.5L469.3 132.7L473.7 132.7ZM472.3 128.5L470.1 132.7L474.5 132.7ZM473.1 128.5L470.9 132.7L475.3 132.7ZM475.4 128.5L473.2 132.7L477.6 132.7ZM475.7 128.5L473.5 132.7L477.9 132.7ZM478.6 128.5L476.4 132.7L480.8 132.7ZM479.4 128.5L477.2 132.7L481.6 132.7ZM480.7 128.5L478.5 132.7L482.9 132.7ZM482.3 128.5L480.1 132.7L484.5 132.7ZM482.8 128.5L480.6 132.7L485 132.7ZM484.9 128.5L482.7 132.7L487.1 132.7ZM486.8 128.5L484.6 132.7L489 132.7ZM484.1 128.5L481.9 132.7L486.3 132.7ZM505.8 128.9L503.6 133.1L508 133.1ZM510.1 128.9L507.9 133.1L512.3 133.1ZM510.6 128.9L508.4 133.1L512.8 133.1ZM513.4 128.9L511.2 133.1L515.6 133.1ZM537.1 128.9L534.9 133.1L539.3 133.1ZM539.5 128.9L537.3 133.1L541.7 133.1ZM541.9 128.9L539.7 133.1L544.1 133.1ZM540.9 128.9L538.7 133.1L543.1 133.1ZM544.7 128.9L542.5 133.1L546.9 133.1ZM550.9 128.9L548.7 133.1L553.1 133.1ZM555.2 128.9L553 133.1L557.4 133.1ZM555.7 128.9L553.5 133.1L557.9 133.1ZM559 128.9L556.8 133.1L561.2 133.1ZM559.9 128.9L557.7 133.1L562.1 133.1Z"/>
<line x1="445" y1="130.57" x2="609" y2="131.54" stroke="#ff0000" stroke-width="0.9"/>
<path fill="#32cd32" stroke="#32cd32" stroke-width="0.0" d="M467.8 126.4L465.6 130.6L470 130.6ZM471.5 122.1L469.3 126.3L473.7 126.3ZM472.3 125.9L470.1 130.1L474.5 130.1ZM473.1 126.7L470.9 130.9L475.3 130.9ZM475.4 126.1L473.2 130.3L477.6 130.3ZM475.7 126.7L473.5 130.9L477.9 130.9ZM478.6 125.9L476.4 130.1L480.8 130.1ZM479.4 126.4L477.2 130.6L481.6 130.6ZM480.7 126.1L478.5 130.3L482.9 130.3ZM482.3 126.7L480.1 130.9L484.5 130.9ZM482.8 125.4L480.6 129.6L485 129.6ZM484.9 119.1L482.7 123.3L487.1 123.3ZM486.8 125.9L484.6 130.1L489 130.1ZM484.1 126.4L481.9 130.6L486.3 130.6ZM505.8 122.1L503.6 126.3L508 126.3ZM510.1 117.9L507.9 122.1L512.3 122.1ZM510.6 121.9L508.4 126.1L512.8 126.1ZM513.4 122.4L511.2 126.6L515.6 126.6ZM537.1 117.4L534.9 121.6L539.3 121.6ZM539.5 118.2L537.3 122.4L541.7 122.4ZM541.9 118.4L539.7 122.6L544.1 122.6ZM540.9 118.9L538.7 123.1L543.1 123.1ZM544.7 119.4L542.5 123.6L546.9 123.6ZM550.9 122.1L548.7 126.3L553.1 126.3ZM555.2 124L553 128.2L557.4 128.2ZM555.7 122.9L553.5 127.1L557.9 127.1ZM559 122.6L556.8 126.8L561.2 126.8ZM559.9 123.4L557.7 127.6L562.1 127.6Z"/>
<line x1="445" y1="128.4" x2="609" y2="117.8" stroke="#32cd32" stroke-width="0.9"/>
<path fill="#ff8c00" stroke="#ff8c00" stroke-width="0.0" d="M467.8 122.4L465.6 126.6L470 126.6ZM471.5 122.9L469.3 127.1L473.7 127.1ZM472.3 122.2L470.1 126.4L474.5 126.4ZM473.1 123.4L470.9 127.6L475.3 127.6ZM475.4 122.9L473.2 127.1L477.6 127.1ZM475.7 122.2L473.5 126.4L477.9 126.4ZM478.6 123.4L476.4 127.6L480.8 127.6ZM479.4 122.7L477.2 126.9L481.6 126.9ZM480.7 123.1L478.5 127.3L482.9 127.3ZM482.3 122.4L480.1 126.6L484.5 126.6ZM482.8 123.4L480.6 127.6L485 127.6ZM484.9 121.9L482.7 126.1L487.1 126.1ZM486.8 122.9L484.6 127.1L489 127.1ZM484.1 123.7L481.9 127.9L486.3 127.9ZM505.8 125.9L503.6 130.1L508 130.1ZM510.1 125.4L507.9 129.6L512.3 129.6ZM510.6 125.9L508.4 130.1L512.8 130.1ZM513.4 125.6L511.2 129.8L515.6 129.8ZM537.1 127.4L534.9 131.6L539.3 131.6ZM539.5 127.9L537.3 132.1L541.7 132.1ZM541.9 126.9L539.7 131.1L544.1 131.1ZM540.9 128.4L538.7 132.6L543.1 132.6ZM544.7 127.9L542.5 132.1L546.9 132.1ZM550.9 127.9L548.7 132.1L553.1 132.1ZM555.2 127.4L553 131.6L557.4 131.6ZM555.7 128.4L553.5 132.6L557.9 132.6ZM559 127.7L556.8 131.9L561.2 131.9ZM559.9 128.2L557.7 132.4L562.1 132.4ZM508.1 126.1L505.9 130.3L510.3 130.3ZM512.1 125.9L509.9 130.1L514.3 130.1ZM538.1 128.4L535.9 132.6L540.3 132.6ZM542.1 128.5L539.9 132.7L544.3 132.7ZM546.1 128.3L543.9 132.5L548.3 132.5ZM553.1 128.4L550.9 132.6L555.3 132.6ZM557.1 128.3L554.9 132.5L559.3 132.5Z"/>
<line x1="445" y1="122.86" x2="609" y2="132.5" stroke="#ff8c00" stroke-width="0.9"/>
<path fill="#ffd700" stroke="#ffd700" stroke-width="0.0" d="M467.6 115.5L465.4 119.7L469.8 119.7ZM471.6 116L469.4 120.2L473.8 120.2ZM472.6 117.3L470.4 121.5L474.8 121.5ZM477.2 113.5L475 117.7L479.4 117.7ZM478.2 115.2L476 119.4L480.4 119.4ZM476.2 115.5L474 119.7L478.4 119.7ZM481.3 120.1L479.1 124.3L483.5 124.3ZM483.3 120.3L481.1 124.5L485.5 124.5ZM485.8 120.3L483.6 124.5L488 124.5ZM474.7 117.5L472.5 121.7L476.9 121.7ZM484.3 119.6L482.1 123.8L486.5 123.8ZM482.3 120.6L480.1 124.8L484.5 124.8ZM479.2 119.6L477 123.8L481.4 123.8ZM473.7 117L471.5 121.2L475.9 121.2ZM505.8 125.4L503.6 129.6L508 129.6ZM510.1 124.7L507.9 128.9L512.3 128.9ZM510.6 125.1L508.4 129.3L512.8 129.3ZM513.4 125.7L511.2 129.9L515.6 129.9ZM537.1 122.4L534.9 126.6L539.3 126.6ZM539.5 123.4L537.3 127.6L541.7 127.6ZM541.9 123.9L539.7 128.1L544.1 128.1ZM540.9 124.9L538.7 129.1L543.1 129.1ZM544.7 123.7L542.5 127.9L546.9 127.9ZM550.9 117.4L548.7 121.6L553.1 121.6ZM555.2 116.9L553 121.1L557.4 121.1ZM555.7 118.4L553.5 122.6L557.9 122.6ZM559 116L556.8 120.2L561.2 120.2ZM559.9 118.9L557.7 123.1L562.1 123.1ZM508.1 125.1L505.9 129.3L510.3 129.3ZM512.1 125.2L509.9 129.4L514.3 129.4ZM536.6 124.4L534.4 128.6L538.8 128.6ZM543.1 122.9L540.9 127.1L545.3 127.1ZM545.6 124.9L543.4 129.1L547.8 129.1Z"/>
<line x1="445" y1="120.57" x2="609" y2="124.43" stroke="#ffd700" stroke-width="0.9"/>
<path fill="#0000cd" stroke="#0000cd" stroke-width="0.0" d="M467.7 92.5L465.5 96.7L469.9 96.7ZM471.4 89.5L469.2 93.7L473.6 93.7ZM471.2 91.7L469 95.9L473.4 95.9ZM472.5 93.9L470.3 98.1L474.7 98.1ZM475.1 91.2L472.9 95.4L477.3 95.4ZM475.6 94.1L473.4 98.3L477.8 98.3ZM478.4 89.5L476.2 93.7L480.6 93.7ZM478.9 91.2L476.7 95.4L481.1 95.4ZM481.3 93.4L479.1 97.6L483.5 97.6ZM482.1 95.6L479.9 99.8L484.3 99.8ZM483.9 94.7L481.7 98.9L486.1 98.9ZM484.3 91.7L482.1 95.9L486.5 95.9ZM486.7 92.1L484.5 96.3L488.9 96.3ZM485.2 96L483 100.2L487.4 100.2ZM506.1 101.7L503.9 105.9L508.3 105.9ZM508.6 100.7L506.4 104.9L510.8 104.9ZM509.6 99.4L507.4 103.6L511.8 103.6ZM511.1 100.4L508.9 104.6L513.3 104.6ZM513.1 100.4L510.9 104.6L515.3 104.6ZM514.6 100.9L512.4 105.1L516.8 105.1ZM507.6 102.1L505.4 106.3L509.8 106.3ZM510.6 101.7L508.4 105.9L512.8 105.9ZM512.6 101.6L510.4 105.8L514.8 105.8ZM537.1 105.4L534.9 109.6L539.3 109.6ZM539.1 106.4L536.9 110.6L541.3 110.6ZM540.9 104.9L538.7 109.1L543.1 109.1ZM542.8 105.9L540.6 110.1L545 110.1ZM544.7 107.3L542.5 111.5L546.9 111.5ZM541.1 107.9L538.9 112.1L543.3 112.1ZM538.6 107.4L536.4 111.6L540.8 111.6ZM543.6 108.2L541.4 112.4L545.8 112.4ZM546.1 107.9L543.9 112.1L548.3 112.1ZM550.9 107.7L548.7 111.9L553.1 111.9ZM553.6 107.4L551.4 111.6L555.8 111.6ZM555.2 106.4L553 110.6L557.4 110.6ZM557.1 108.2L554.9 112.4L559.3 112.4ZM558.5 107.4L556.3 111.6L560.7 111.6ZM560.4 108.7L558.2 112.9L562.6 112.9ZM556.1 108.9L553.9 113.1L558.3 113.1Z"/>
<line x1="445" y1="88.04" x2="609" y2="120.81" stroke="#0000cd" stroke-width="0.9"/>
</g>
<rect x="445" y="12" width="164" height="120.5" fill="none" stroke="#333" stroke-width="1.0"/>
<path d="M445 132.5v3.8M445 12v-3.8M465.5 132.5v3.8M465.5 12v-3.8M486 132.5v3.8M486 12v-3.8M506.5 132.5v3.8M506.5 12v-3.8M527 132.5v3.8M527 12v-3.8M547.5 132.5v3.8M547.5 12v-3.8M568 132.5v3.8M568 12v-3.8M588.5 132.5v3.8M588.5 12v-3.8M609 132.5v3.8M609 12v-3.8M445 132.5h-3.8M609 132.5h3.8M445 102.38h-3.8M609 102.38h3.8M445 72.25h-3.8M609 72.25h3.8M445 42.12h-3.8M609 42.12h3.8M445 12h-3.8M609 12h3.8" stroke="#000" stroke-width="0.8" fill="none"/>
<path d="M445 132.5v2.3M445 12v-2.3M455.25 132.5v2.3M455.25 12v-2.3M465.5 132.5v2.3M465.5 12v-2.3M475.75 132.5v2.3M475.75 12v-2.3M486 132.5v2.3M486 12v-2.3M496.25 132.5v2.3M496.25 12v-2.3M506.5 132.5v2.3M506.5 12v-2.3M516.75 132.5v2.3M516.75 12v-2.3M527 132.5v2.3M527 12v-2.3M537.25 132.5v2.3M537.25 12v-2.3M547.5 132.5v2.3M547.5 12v-2.3M557.75 132.5v2.3M557.75 12v-2.3M568 132.5v2.3M568 12v-2.3M578.25 132.5v2.3M578.25 12v-2.3M588.5 132.5v2.3M588.5 12v-2.3M598.75 132.5v2.3M598.75 12v-2.3M609 132.5v2.3M609 12v-2.3M445 126.47h-2.3M609 126.47h2.3M445 120.45h-2.3M609 120.45h2.3M445 114.42h-2.3M609 114.42h2.3M445 108.4h-2.3M609 108.4h2.3M445 96.35h-2.3M609 96.35h2.3M445 90.32h-2.3M609 90.32h2.3M445 84.3h-2.3M609 84.3h2.3M445 78.28h-2.3M609 78.28h2.3M445 66.23h-2.3M609 66.23h2.3M445 60.2h-2.3M609 60.2h2.3M445 54.17h-2.3M609 54.17h2.3M445 48.15h-2.3M609 48.15h2.3M445 36.1h-2.3M609 36.1h2.3M445 30.08h-2.3M609 30.08h2.3M445 24.05h-2.3M609 24.05h2.3M445 18.03h-2.3M609 18.03h2.3" stroke="#000" stroke-width="0.6" fill="none"/>
<text y="144.7" font-size="7.21" fill="#000" stroke="#000" stroke-width="0.2" transform="matrix(1.20219 0.00100 0 1 -88.7563 -0.4426)"><tspan x="438.94 442.99 445.02" font-weight="bold">0.8</tspan></text>
<text y="144.7" font-size="7.21" fill="#000" stroke="#000" stroke-width="0.2" transform="matrix(1.20219 0.00100 0 1 -92.9012 -0.4631)"><tspan x="459.44 463.49 465.52" font-weight="bold">1.0</tspan></text>
<text y="144.7" font-size="7.21" fill="#000" stroke="#000" stroke-width="0.2" transform="matrix(1.20219 0.00100 0 1 -97.0460 -0.4836)"><tspan x="479.94 483.99 486.02" font-weight="bold">1.2</tspan></text>
<text y="144.7" font-size="7.21" fill="#000" stroke="#000" stroke-width="0.2" transform="matrix(1.20219 0.00100 0 1 -101.1909 -0.5041)"><tspan x="500.44 504.49 506.52" font-weight="bold">1.4</tspan></text>
<text y="144.7" font-size="7.21" fill="#000" stroke="#000" stroke-width="0.2" transform="matrix(1.20219 0.00100 0 1 -105.3358 -0.5246)"><tspan x="520.94 524.99 527.02" font-weight="bold">1.6</tspan></text>
<text y="144.7" font-size="7.21" fill="#000" stroke="#000" stroke-width="0.2" transform="matrix(1.20219 0.00100 0 1 -109.4806 -0.5451)"><tspan x="541.44 545.49 547.52" font-weight="bold">1.8</tspan></text>
<text y="144.7" font-size="7.21" fill="#000" stroke="#000" stroke-width="0.2" transform="matrix(1.20219 0.00100 0 1 -113.6255 -0.5656)"><tspan x="561.94 565.99 568.02" font-weight="bold">2.0</tspan></text>
<text y="144.7" font-size="7.21" fill="#000" stroke="#000" stroke-width="0.2" transform="matrix(1.20219 0.00100 0 1 -117.7704 -0.5861)"><tspan x="582.44 586.49 588.52" font-weight="bold">2.2</tspan></text>
<text y="144.7" font-size="7.21" fill="#000" stroke="#000" stroke-width="0.2" transform="matrix(1.20219 0.00100 0 1 -121.9153 -0.6066)"><tspan x="602.94 606.99 609.02" font-weight="bold">2.4</tspan></text>
<text y="135.5" font-size="7.21" fill="#000" stroke="#000" stroke-width="0.2" transform="matrix(1.19592 0.00100 0 1 -82.5865 -0.4275)"><tspan x="421.5 425.56 427.61 431.57" font-weight="bold">0.00</tspan></text>
<text y="105.38" font-size="7.21" fill="#000" stroke="#000" stroke-width="0.2" transform="matrix(1.19592 0.00100 0 1 -82.5865 -0.4275)"><tspan x="421.5 425.56 427.61 431.57" font-weight="bold">0.05</tspan></text>
<text y="75.25" font-size="7.21" fill="#000" stroke="#000" stroke-width="0.2" transform="matrix(1.19592 0.00100 0 1 -82.5865 -0.4275)"><tspan x="421.5 425.56 427.61 431.57" font-weight="bold">0.10</tspan></text>
<text y="45.12" font-size="7.21" fill="#000" stroke="#000" stroke-width="0.2" transform="matrix(1.19592 0.00100 0 1 -82.5865 -0.4275)"><tspan x="421.5 425.56 427.61 431.57" font-weight="bold">0.15</tspan></text>
<text y="15" font-size="7.21" fill="#000" stroke="#000" stroke-width="0.2" transform="matrix(1.19592 0.00100 0 1 -82.5865 -0.4275)"><tspan x="421.5 425.56 427.61 431.57" font-weight="bold">0.20</tspan></text>
<text y="153.8" font-size="7.21" fill="#000" stroke="#000" stroke-width="0.2" transform="matrix(1.13876 0.00100 0 1 -66.9981 -0.5254)"><tspan x="482.6 487.27 490.16 493.96 497.75 499.71 504.07 506.33 508.96 513.21 515.86 517.73 521.91 528.48 530.95 537.17 543.58 545.61 549.96 553.92 557.85" font-weight="bold">Precipitation(mm/day)</tspan></text>
<text y="5" font-size="7.21" fill="#000" stroke="#000" stroke-width="0.2" transform="matrix(1.13805 0.00100 0 1 -65.6775 -0.5254)"><tspan x="475.91 478.24 482.19 486.67 490.76 494.45 497.09 501.13 505.4 507.71 512.21 516.62 519.52 521.47 525.73 530.47 534.83 539.31 543.54 549.77 556.11 560.21 563.25" font-weight="bold">(c)Total(Spring+Summer)</tspan></text>
<g transform="translate(417.6 72.25) rotate(-90)"><text y="0" font-size="7.21" fill="#000" stroke="#000" stroke-width="0.2" transform="matrix(1.04186 0.00100 0 1 0.3492 0.0028)"><tspan x="-8.42 -3.32 2.36" font-weight="bold">AOD</tspan></text></g>
<text y="23.45" font-size="7.31" fill="#000000" stroke="#000000" stroke-width="0.08" transform="matrix(1.10676 0.00100 0 1 -48.5751 -0.5279)"><tspan x="454.67 458.68 462.83 464.94 468.94 470.31 474.49 479.55" font-style="italic">TotalAOD</tspan><tspan x="486.28 492.24 495.15 499.85 503.84 505.8 509.77 513.73 517.75">=(−0.039)</tspan><tspan x="520.2" font-style="italic">x</tspan><tspan x="525.56 531.52 533.91 537.9 539.85 543.82 547.79 551.8 554.21">+(0.150),</tspan><tspan x="556.96" font-style="italic">R</tspan><tspan x="563.46 571.11 577.02 581.01 582.8 586.77">=−0.87</tspan></text>
<text y="29.5" font-size="7.31" fill="#ff0000" stroke="#ff0000" stroke-width="0.08" transform="matrix(1.11736 0.00100 0 1 -53.3984 -0.5163)"><tspan x="454.68 458.75" font-style="italic">BC</tspan><tspan x="465.2 471.12 473.99 478.64 482.61 484.53 488.46 492.39 496.38">=(−0.001)</tspan><tspan x="498.8" font-style="italic">x</tspan><tspan x="504.11 510.02 512.37 516.34 518.27 522.2 526.12 530.11 532.5">+(0.004),</tspan><tspan x="535.2" font-style="italic">R</tspan><tspan x="541.64 549.22 555.08 559.04 560.81 564.74">=−0.80</tspan></text>
<text y="35.55" font-size="7.31" fill="#32cd32" stroke="#32cd32" stroke-width="0.08" transform="matrix(1.10865 0.00100 0 1 -49.4353 -0.5125)"><tspan x="454.6 459.59" font-style="italic">OA</tspan><tspan x="465.84 471.79 474.17 478.16 480.11 484.07 488.03 492.04">=(0.011)</tspan><tspan x="494.48" font-style="italic">x</tspan><tspan x="499.84 505.79 508.69 513.38 517.37 519.32 523.28 527.24 531.25 533.65">+(−0.002),</tspan><tspan x="536.39" font-style="italic">R</tspan><tspan x="542.88 548.78 552.77 554.72 558.68">=0.67</tspan></text>
<text y="41.6" font-size="7.31" fill="#ff8c00" stroke="#ff8c00" stroke-width="0.08" transform="matrix(1.12648 0.00100 0 1 -57.5470 -0.5197)"><tspan x="454.72 459.62 463.37 466.97" font-style="italic">Dust</tspan><tspan x="470.82 476.69 479.53 484.15 488.09 489.99 493.89 497.79 501.75">=(−0.010)</tspan><tspan x="504.14" font-style="italic">x</tspan><tspan x="509.41 515.28 517.61 521.55 523.45 527.35 531.24 535.2 537.57">+(0.024),</tspan><tspan x="540.24" font-style="italic">R</tspan><tspan x="546.64 554.16 559.97 563.91 565.81 569.71">=−0.96</tspan></text>
<text y="47.65" font-size="7.31" fill="#ffd700" stroke="#ffd700" stroke-width="0.08" transform="matrix(1.11404 0.00100 0 1 -51.8877 -0.5159)"><tspan x="454.53 458.46" font-style="italic">SS</tspan><tspan x="464.53 470.46 473.34 478.01 481.98 483.92 487.86 491.8 495.79">=(−0.004)</tspan><tspan x="498.22" font-style="italic">x</tspan><tspan x="503.55 509.48 511.84 515.81 517.75 521.69 525.63 529.63 532.02">+(0.023),</tspan><tspan x="534.74" font-style="italic">R</tspan><tspan x="541.2 548.8 554.67 558.65 560.24 564.18">=−0.26</tspan></text>
<text y="53.7" font-size="7.31" fill="#0000cd" stroke="#0000cd" stroke-width="0.08" transform="matrix(1.11410 0.00100 0 1 -51.9154 -0.5188)"><tspan x="454.53 458.52" font-style="italic">SO</tspan><tspan x="463.74 469.41 475.34 478.22 482.89 486.86 488.8 492.74 496.68 500.68">4=(−0.034)</tspan><tspan x="503.11" font-style="italic">x</tspan><tspan x="508.43 514.36 516.72 520.69 522.63 526.57 530.51 534.51 536.9">+(0.101),</tspan><tspan x="539.62" font-style="italic">R</tspan><tspan x="546.08 553.68 559.55 563.52 565.46 569.4">=−0.97</tspan></text>
<g clip-path="url(#c3)">
<path fill="#000000" stroke="#000000" stroke-width="0.0" d="M47.6 222.4L45.4 226.6L49.8 226.6ZM49.5 223.3L47.3 227.5L51.7 227.5ZM52.3 221.9L50.1 226.1L54.5 226.1ZM53.8 223.8L51.6 228L56 228ZM51.4 224.8L49.2 229L53.6 229ZM48.1 230.9L45.9 235.1L50.3 235.1ZM54.2 230.9L52 235.1L56.4 235.1ZM132.3 217.6L130.1 221.8L134.5 221.8ZM131.9 220.5L129.7 224.7L134.1 224.7ZM133.3 222.9L131.1 227.1L135.5 227.1ZM132.3 225.2L130.1 229.4L134.5 229.4ZM133.8 227.1L131.6 231.3L136 231.3ZM134.7 230.5L132.5 234.7L136.9 234.7ZM133.3 229.5L131.1 233.7L135.5 233.7Z"/>
<line x1="33" y1="227" x2="197" y2="227" stroke="#000000" stroke-width="0.9"/>
<path fill="#ff0000" stroke="#ff0000" stroke-width="0.0" d="M48 288.7L45.8 292.9L50.2 292.9ZM50.5 288.7L48.3 292.9L52.7 292.9ZM53 288.7L50.8 292.9L55.2 292.9ZM132.5 288.9L130.3 293.1L134.7 293.1ZM134 288.9L131.8 293.1L136.2 293.1Z"/>
<line x1="33" y1="290.4" x2="197" y2="290.4" stroke="#ff0000" stroke-width="0.9"/>
<path fill="#32cd32" stroke="#32cd32" stroke-width="0.0" d="M47.4 285.9L45.2 290.1L49.6 290.1ZM53.2 285.7L51 289.9L55.4 289.9ZM50 286.4L47.8 290.6L52.2 290.6ZM133.3 285.9L131.1 290.1L135.5 290.1ZM132 284.9L129.8 289.1L134.2 289.1ZM134.5 286.5L132.3 290.7L136.7 290.7Z"/>
<line x1="33" y1="286" x2="197" y2="286" stroke="#32cd32" stroke-width="0.9"/>
<path fill="#ff8c00" stroke="#ff8c00" stroke-width="0.0" d="M47.9 281.7L45.7 285.9L50.1 285.9ZM51.3 281.2L49.1 285.4L53.5 285.4ZM53.4 281.7L51.2 285.9L55.6 285.9ZM49 282.4L46.8 286.6L51.2 286.6ZM133.3 281.8L131.1 286L135.5 286ZM132.5 282.4L130.3 286.6L134.7 286.6Z"/>
<line x1="33" y1="284.1" x2="197" y2="284.1" stroke="#ff8c00" stroke-width="0.9"/>
<path fill="#ffd700" stroke="#ffd700" stroke-width="0.0" d="M47.4 274.9L45.2 279.1L49.6 279.1ZM52.9 275.1L50.7 279.3L55.1 279.3ZM47.9 276.9L45.7 281.1L50.1 281.1ZM53.2 277.2L51 281.4L55.4 281.4ZM133.9 272.6L131.7 276.8L136.1 276.8ZM131.5 274.1L129.3 278.3L133.7 278.3ZM132.1 276.2L129.9 280.4L134.3 280.4ZM134 278.9L131.8 283.1L136.2 283.1ZM133.5 280.1L131.3 284.3L135.7 284.3Z"/>
<line x1="33" y1="279.6" x2="197" y2="279.6" stroke="#ffd700" stroke-width="0.9"/>
<path fill="#0000cd" stroke="#0000cd" stroke-width="0.0" d="M48.1 250.9L45.9 255.1L50.3 255.1ZM50 252.8L47.8 257L52.2 257ZM51.9 250.4L49.7 254.6L54.1 254.6ZM53.8 253.3L51.6 257.5L56 257.5ZM49 253.4L46.8 257.6L51.2 257.6ZM131.9 249.5L129.7 253.7L134.1 253.7ZM132.3 252.8L130.1 257L134.5 257ZM133.8 253.7L131.6 257.9L136 257.9ZM133 250.9L130.8 255.1L135.2 255.1Z"/>
<line x1="33" y1="254.1" x2="197" y2="254.1" stroke="#0000cd" stroke-width="0.9"/>
</g>
<rect x="33" y="171.5" width="164" height="120.5" fill="none" stroke="#333" stroke-width="1.0"/>
<path d="M33 292v3.8M33 171.5v-3.8M74 292v3.8M74 171.5v-3.8M115 292v3.8M115 171.5v-3.8M156 292v3.8M156 171.5v-3.8M197 292v3.8M197 171.5v-3.8M33 292h-3.8M197 292h3.8M33 261.88h-3.8M197 261.88h3.8M33 231.75h-3.8M197 231.75h3.8M33 201.62h-3.8M197 201.62h3.8M33 171.5h-3.8M197 171.5h3.8" stroke="#000" stroke-width="0.8" fill="none"/>
<path d="M33 292v2.3M33 171.5v-2.3M53.5 292v2.3M53.5 171.5v-2.3M74 292v2.3M74 171.5v-2.3M94.5 292v2.3M94.5 171.5v-2.3M115 292v2.3M115 171.5v-2.3M135.5 292v2.3M135.5 171.5v-2.3M156 292v2.3M156 171.5v-2.3M176.5 292v2.3M176.5 171.5v-2.3M197 292v2.3M197 171.5v-2.3M33 285.98h-2.3M197 285.98h2.3M33 279.95h-2.3M197 279.95h2.3M33 273.93h-2.3M197 273.93h2.3M33 267.9h-2.3M197 267.9h2.3M33 255.85h-2.3M197 255.85h2.3M33 249.82h-2.3M197 249.82h2.3M33 243.8h-2.3M197 243.8h2.3M33 237.78h-2.3M197 237.78h2.3M33 225.73h-2.3M197 225.73h2.3M33 219.7h-2.3M197 219.7h2.3M33 213.68h-2.3M197 213.68h2.3M33 207.65h-2.3M197 207.65h2.3M33 195.6h-2.3M197 195.6h2.3M33 189.57h-2.3M197 189.57h2.3M33 183.55h-2.3M197 183.55h2.3M33 177.53h-2.3M197 177.53h2.3" stroke="#000" stroke-width="0.6" fill="none"/>
<text y="304.2" font-size="7.21" fill="#000" stroke="#000" stroke-width="0.2" transform="matrix(1.23993 0.00100 0 1 -6.0989 -0.0306)"><tspan x="25.61 29.92 33.73" font-weight="bold">−20</tspan></text>
<text y="304.2" font-size="7.21" fill="#000" stroke="#000" stroke-width="0.2" transform="matrix(1.23993 0.00100 0 1 -15.9360 -0.0716)"><tspan x="66.61 70.92 74.73" font-weight="bold">−15</tspan></text>
<text y="304.2" font-size="7.21" fill="#000" stroke="#000" stroke-width="0.2" transform="matrix(1.23993 0.00100 0 1 -25.7731 -0.1126)"><tspan x="107.61 111.92 115.73" font-weight="bold">−10</tspan></text>
<text y="304.2" font-size="7.21" fill="#000" stroke="#000" stroke-width="0.2" transform="matrix(1.26903 0.00100 0 1 -40.5661 -0.1536)"><tspan x="150.93 155.14" font-weight="bold">−5</tspan></text>
<text y="304.2" font-size="7.21" fill="#000" stroke="#000" stroke-width="0.2" transform="matrix(1.18027 0.00100 0 1 -35.0859 -0.1946)"><tspan x="194.63" font-weight="bold">0</tspan></text>
<text y="295" font-size="7.21" fill="#000" stroke="#000" stroke-width="0.2" transform="matrix(1.19592 0.00100 0 1 -1.8657 -0.0155)"><tspan x="9.5 13.56 15.61 19.57" font-weight="bold">0.00</tspan></text>
<text y="264.88" font-size="7.21" fill="#000" stroke="#000" stroke-width="0.2" transform="matrix(1.19592 0.00100 0 1 -1.8657 -0.0155)"><tspan x="9.5 13.56 15.61 19.57" font-weight="bold">0.05</tspan></text>
<text y="234.75" font-size="7.21" fill="#000" stroke="#000" stroke-width="0.2" transform="matrix(1.19592 0.00100 0 1 -1.8657 -0.0155)"><tspan x="9.5 13.56 15.61 19.57" font-weight="bold">0.10</tspan></text>
<text y="204.62" font-size="7.21" fill="#000" stroke="#000" stroke-width="0.2" transform="matrix(1.19592 0.00100 0 1 -1.8657 -0.0155)"><tspan x="9.5 13.56 15.61 19.57" font-weight="bold">0.15</tspan></text>
<text y="174.5" font-size="7.21" fill="#000" stroke="#000" stroke-width="0.2" transform="matrix(1.19592 0.00100 0 1 -1.8657 -0.0155)"><tspan x="9.5 13.56 15.61 19.57" font-weight="bold">0.20</tspan></text>
<text y="313.3" font-size="7.21" fill="#000" stroke="#000" stroke-width="0.2" transform="matrix(1.13914 0.00100 0 1 -11.4177 -0.1134)"><tspan x="81.89 86.15 89.29 95.54 99.9 104 106.88 111.13 113.68 118.07 120.97 127.24 129.85 132.37 137.33" font-weight="bold">Temperature(°C)</tspan></text>
<text y="164.5" font-size="7.21" fill="#000" stroke="#000" stroke-width="0.2" transform="matrix(1.13423 0.00100 0 1 -11.4618 -0.1134)"><tspan x="85.56 88.07 92.59 97 101.51 105.93 108.84 110.8 115.08 121.69 123.97 128.88 135.03" font-weight="bold">(d)Spring(AM)</tspan></text>
<g transform="translate(5.6 231.75) rotate(-90)"><text y="0" font-size="7.21" fill="#000" stroke="#000" stroke-width="0.2" transform="matrix(1.04186 0.00100 0 1 0.3492 0.0028)"><tspan x="-8.42 -3.32 2.36" font-weight="bold">AOD</tspan></text></g>
<text y="182.95" font-size="7.31" fill="#000000" stroke="#000000" stroke-width="0.08" transform="matrix(1.08866 0.00100 0 1 -3.6350 -0.1069)"><tspan x="40.7 44.78 48.98 51.14 55.19 56.61 60.86 66" font-style="italic">TotalAOD</tspan><tspan x="72.84 78.88 81.32 85.36 87.37 91.4 95.43 99.5">=(0.000)</tspan><tspan x="102" font-style="italic">x</tspan><tspan x="107.46 113.5 115.94 119.98 121.99 126.02 130.05 134.12 136.57">+(0.108),</tspan><tspan x="139.39" font-style="italic">R</tspan><tspan x="145.98 151.99 156.03 158.04 162.07">=0.00</tspan></text>
<text y="189" font-size="7.31" fill="#ff0000" stroke="#ff0000" stroke-width="0.08" transform="matrix(1.11736 0.00100 0 1 -4.8117 -0.1024)"><tspan x="40.68 44.75" font-style="italic">BC</tspan><tspan x="51.2 57.12 59.99 64.64 68.61 70.53 74.46 78.39 82.38">=(−0.000)</tspan><tspan x="84.8" font-style="italic">x</tspan><tspan x="90.11 96.02 98.37 102.34 104.27 108.2 112.12 116.11 118.5">+(0.003),</tspan><tspan x="121.2" font-style="italic">R</tspan><tspan x="127.64 135.22 141.08 145.04 146.97 150.9">=−0.02</tspan></text>
<text y="195.05" font-size="7.31" fill="#32cd32" stroke="#32cd32" stroke-width="0.08" transform="matrix(1.09763 0.00100 0 1 -4.0028 -0.0956)"><tspan x="40.63 45.66" font-style="italic">OA</tspan><tspan x="51.97 57.97 60.38 64.4 66.38 70.38 74.38 78.42">=(0.000)</tspan><tspan x="80.9" font-style="italic">x</tspan><tspan x="86.31 92.31 94.72 98.74 100.72 104.72 108.72 112.76 115.19">+(0.010),</tspan><tspan x="117.97" font-style="italic">R</tspan><tspan x="124.52 130.48 134.49 136.48 140.48">=0.11</tspan></text>
<text y="201.1" font-size="7.31" fill="#ff8c00" stroke="#ff8c00" stroke-width="0.08" transform="matrix(1.12648 0.00100 0 1 -5.1856 -0.1057)"><tspan x="40.72 45.62 49.37 52.97" font-style="italic">Dust</tspan><tspan x="56.82 62.69 65.53 70.15 74.09 75.99 79.89 83.79 87.75">=(−0.000)</tspan><tspan x="90.14" font-style="italic">x</tspan><tspan x="95.41 101.28 103.61 107.55 109.45 113.35 117.24 121.2 123.57">+(0.013),</tspan><tspan x="126.24" font-style="italic">R</tspan><tspan x="132.64 140.16 145.97 149.91 151.81 155.71">=−0.12</tspan></text>
<text y="207.15" font-size="7.31" fill="#ffd700" stroke="#ffd700" stroke-width="0.08" transform="matrix(1.11404 0.00100 0 1 -4.6756 -0.1020)"><tspan x="40.53 44.46" font-style="italic">SS</tspan><tspan x="50.53 56.46 59.34 64.01 67.98 69.92 73.86 77.8 81.79">=(−0.000)</tspan><tspan x="84.22" font-style="italic">x</tspan><tspan x="89.55 95.48 97.84 101.81 103.75 107.69 111.63 115.63 118.02">+(0.020),</tspan><tspan x="120.74" font-style="italic">R</tspan><tspan x="127.2 134.8 140.67 144.65 146.58 150.52">=−0.02</tspan></text>
<text y="213.2" font-size="7.31" fill="#0000cd" stroke="#0000cd" stroke-width="0.08" transform="matrix(1.11410 0.00100 0 1 -4.6781 -0.1048)"><tspan x="40.53 44.52" font-style="italic">SO</tspan><tspan x="49.74 55.41 61.34 64.22 68.89 72.86 74.8 78.74 82.68 86.68">4=(−0.000)</tspan><tspan x="89.11" font-style="italic">x</tspan><tspan x="94.43 100.36 102.72 106.69 108.63 112.57 116.51 120.51 122.9">+(0.062),</tspan><tspan x="125.62" font-style="italic">R</tspan><tspan x="132.08 139.68 145.55 149.52 151.46 155.4">=−0.03</tspan></text>
<g clip-path="url(#c4)">
<path fill="#000000" stroke="#000000" stroke-width="0.0" d="M288.7 241.7L286.5 245.9L290.9 245.9ZM295.3 240.9L293.1 245.1L297.5 245.1ZM296.5 241.4L294.3 245.6L298.7 245.6ZM300.2 238L298 242.2L302.4 242.2ZM302.6 243.4L300.4 247.6L304.8 247.6ZM305 234.4L302.8 238.6L307.2 238.6ZM305.8 244.1L303.6 248.3L308 248.3ZM310.7 236.6L308.5 240.8L312.9 240.8ZM312.4 240.9L310.2 245.1L314.6 245.1ZM380.2 240.2L378 244.4L382.4 244.4ZM379.5 244.6L377.3 248.8L381.7 248.8ZM386.3 240.2L384.1 244.4L388.5 244.4ZM387.3 242.2L385.1 246.4L389.5 246.4ZM390.4 239.2L388.2 243.4L392.6 243.4ZM392.9 246.6L390.7 250.8L395.1 250.8ZM395.3 236.6L393.1 240.8L397.5 240.8Z"/>
<line x1="239" y1="242.8" x2="403" y2="242.8" stroke="#000000" stroke-width="0.9"/>
<path fill="#ff0000" stroke="#ff0000" stroke-width="0.0" d="M288.9 288.6L286.7 292.8L291.1 292.8ZM296 288.6L293.8 292.8L298.2 292.8ZM300.4 288.6L298.2 292.8L302.6 292.8ZM304.5 288.6L302.3 292.8L306.7 292.8ZM311.6 288.6L309.4 292.8L313.8 292.8ZM379.5 288.8L377.3 293L381.7 293ZM386.9 288.8L384.7 293L389.1 293ZM390.4 288.8L388.2 293L392.6 293ZM395 287.8L392.8 292L397.2 292Z"/>
<line x1="239" y1="290.3" x2="403" y2="290.3" stroke="#ff0000" stroke-width="0.9"/>
<path fill="#32cd32" stroke="#32cd32" stroke-width="0.0" d="M288.9 277.3L286.7 281.5L291.1 281.5ZM296.5 282.2L294.3 286.4L298.7 286.4ZM300.4 276.8L298.2 281L302.6 281ZM304.5 277.1L302.3 281.3L306.7 281.3ZM304 279.1L301.8 283.3L306.2 283.3ZM311.6 282.2L309.4 286.4L313.8 286.4ZM390.4 277.1L388.2 281.3L392.6 281.3ZM378.7 282.9L376.5 287.1L380.9 287.1ZM381.5 282.7L379.3 286.9L383.7 286.9ZM387.9 283.2L385.7 287.4L390.1 287.4ZM392.5 279.4L390.3 283.6L394.7 283.6ZM394.5 282.2L392.3 286.4L396.7 286.4ZM396.3 282.2L394.1 286.4L398.5 286.4Z"/>
<line x1="239" y1="282.4" x2="403" y2="282.4" stroke="#32cd32" stroke-width="0.9"/>
<path fill="#ff8c00" stroke="#ff8c00" stroke-width="0.0" d="M288.9 286.3L286.7 290.5L291.1 290.5ZM300.4 286.3L298.2 290.5L302.6 290.5ZM304 286.3L301.8 290.5L306.2 290.5ZM311.6 286.3L309.4 290.5L313.8 290.5ZM296 286.3L293.8 290.5L298.2 290.5ZM379.5 286.3L377.3 290.5L381.7 290.5ZM386.9 285.7L384.7 289.9L389.1 289.9ZM390.4 286.3L388.2 290.5L392.6 290.5ZM393.5 286.3L391.3 290.5L395.7 290.5Z"/>
<line x1="239" y1="287.4" x2="403" y2="287.4" stroke="#ff8c00" stroke-width="0.9"/>
<path fill="#ffd700" stroke="#ffd700" stroke-width="0.0" d="M296.5 277.1L294.3 281.3L298.7 281.3ZM300.6 278.3L298.4 282.5L302.8 282.5ZM312.4 278.1L310.2 282.3L314.6 282.3ZM288.9 283.4L286.7 287.6L291.1 287.6ZM296 283.7L293.8 287.9L298.2 287.9ZM304 282.7L301.8 286.9L306.2 286.9ZM305 283.4L302.8 287.6L307.2 287.6ZM379.5 278.1L377.3 282.3L381.7 282.3ZM387.4 274.8L385.2 279L389.6 279ZM386.9 278.1L384.7 282.3L389.1 282.3ZM386.4 283.2L384.2 287.4L388.6 287.4ZM392 282.7L389.8 286.9L394.2 286.9ZM395 283.2L392.8 287.4L397.2 287.4ZM379.5 283.7L377.3 287.9L381.7 287.9Z"/>
<line x1="239" y1="283.3" x2="403" y2="283.3" stroke="#ffd700" stroke-width="0.9"/>
<path fill="#0000cd" stroke="#0000cd" stroke-width="0.0" d="M288.7 266.6L286.5 270.8L290.9 270.8ZM295.6 261.2L293.4 265.4L297.8 265.4ZM296.5 266.6L294.3 270.8L298.7 270.8ZM300.2 266.1L298 270.3L302.4 270.3ZM302.6 264.9L300.4 269.1L304.8 269.1ZM304.6 260.7L302.4 264.9L306.8 264.9ZM305.8 266.6L303.6 270.8L308 270.8ZM310.4 259.7L308.2 263.9L312.6 263.9ZM312.4 266.6L310.2 270.8L314.6 270.8ZM380.2 261.7L378 265.9L382.4 265.9ZM380 267.8L377.8 272L382.2 272ZM386.3 260.9L384.1 265.1L388.5 265.1ZM386.8 267.8L384.6 272L389 272ZM390.4 264.1L388.2 268.3L392.6 268.3ZM392.9 267.8L390.7 272L395.1 272ZM395.3 258.8L393.1 263L397.5 263Z"/>
<line x1="239" y1="266.5" x2="403" y2="266.5" stroke="#0000cd" stroke-width="0.9"/>
</g>
<rect x="239" y="171.5" width="164" height="120.5" fill="none" stroke="#333" stroke-width="1.0"/>
<path d="M239 292v3.8M239 171.5v-3.8M280 292v3.8M280 171.5v-3.8M321 292v3.8M321 171.5v-3.8M362 292v3.8M362 171.5v-3.8M403 292v3.8M403 171.5v-3.8M239 292h-3.8M403 292h3.8M239 261.88h-3.8M403 261.88h3.8M239 231.75h-3.8M403 231.75h3.8M239 201.62h-3.8M403 201.62h3.8M239 171.5h-3.8M403 171.5h3.8" stroke="#000" stroke-width="0.8" fill="none"/>
<path d="M239 292v2.3M239 171.5v-2.3M259.5 292v2.3M259.5 171.5v-2.3M280 292v2.3M280 171.5v-2.3M300.5 292v2.3M300.5 171.5v-2.3M321 292v2.3M321 171.5v-2.3M341.5 292v2.3M341.5 171.5v-2.3M362 292v2.3M362 171.5v-2.3M382.5 292v2.3M382.5 171.5v-2.3M403 292v2.3M403 171.5v-2.3M239 285.98h-2.3M403 285.98h2.3M239 279.95h-2.3M403 279.95h2.3M239 273.93h-2.3M403 273.93h2.3M239 267.9h-2.3M403 267.9h2.3M239 255.85h-2.3M403 255.85h2.3M239 249.82h-2.3M403 249.82h2.3M239 243.8h-2.3M403 243.8h2.3M239 237.78h-2.3M403 237.78h2.3M239 225.73h-2.3M403 225.73h2.3M239 219.7h-2.3M403 219.7h2.3M239 213.68h-2.3M403 213.68h2.3M239 207.65h-2.3M403 207.65h2.3M239 195.6h-2.3M403 195.6h2.3M239 189.57h-2.3M403 189.57h2.3M239 183.55h-2.3M403 183.55h2.3M239 177.53h-2.3M403 177.53h2.3" stroke="#000" stroke-width="0.6" fill="none"/>
<text y="304.2" font-size="7.21" fill="#000" stroke="#000" stroke-width="0.2" transform="matrix(1.24697 0.00100 0 1 -56.8347 -0.2366)"><tspan x="230.31 234.59 238.53 240.46" font-weight="bold">−2.0</tspan></text>
<text y="304.2" font-size="7.21" fill="#000" stroke="#000" stroke-width="0.2" transform="matrix(1.24697 0.00100 0 1 -66.9605 -0.2776)"><tspan x="271.31 275.59 279.53 281.46" font-weight="bold">−1.5</tspan></text>
<text y="304.2" font-size="7.21" fill="#000" stroke="#000" stroke-width="0.2" transform="matrix(1.24697 0.00100 0 1 -77.0863 -0.3186)"><tspan x="312.31 316.59 320.53 322.46" font-weight="bold">−1.0</tspan></text>
<text y="304.2" font-size="7.21" fill="#000" stroke="#000" stroke-width="0.2" transform="matrix(1.24697 0.00100 0 1 -87.2120 -0.3596)"><tspan x="353.31 357.59 361.53 363.46" font-weight="bold">−0.5</tspan></text>
<text y="304.2" font-size="7.21" fill="#000" stroke="#000" stroke-width="0.2" transform="matrix(1.20219 0.00100 0 1 -80.2643 -0.4006)"><tspan x="396.94 400.99 403.02" font-weight="bold">0.0</tspan></text>
<text y="295" font-size="7.21" fill="#000" stroke="#000" stroke-width="0.2" transform="matrix(1.19592 0.00100 0 1 -42.2261 -0.2215)"><tspan x="215.5 219.56 221.61 225.57" font-weight="bold">0.00</tspan></text>
<text y="264.88" font-size="7.21" fill="#000" stroke="#000" stroke-width="0.2" transform="matrix(1.19592 0.00100 0 1 -42.2261 -0.2215)"><tspan x="215.5 219.56 221.61 225.57" font-weight="bold">0.05</tspan></text>
<text y="234.75" font-size="7.21" fill="#000" stroke="#000" stroke-width="0.2" transform="matrix(1.19592 0.00100 0 1 -42.2261 -0.2215)"><tspan x="215.5 219.56 221.61 225.57" font-weight="bold">0.10</tspan></text>
<text y="204.62" font-size="7.21" fill="#000" stroke="#000" stroke-width="0.2" transform="matrix(1.19592 0.00100 0 1 -42.2261 -0.2215)"><tspan x="215.5 219.56 221.61 225.57" font-weight="bold">0.15</tspan></text>
<text y="174.5" font-size="7.21" fill="#000" stroke="#000" stroke-width="0.2" transform="matrix(1.19592 0.00100 0 1 -42.2261 -0.2215)"><tspan x="215.5 219.56 221.61 225.57" font-weight="bold">0.20</tspan></text>
<text y="313.3" font-size="7.21" fill="#000" stroke="#000" stroke-width="0.2" transform="matrix(1.13914 0.00100 0 1 -40.0810 -0.3194)"><tspan x="287.89 292.15 295.29 301.54 305.9 310 312.88 317.13 319.68 324.07 326.97 333.24 335.85 338.37 343.33" font-weight="bold">Temperature(°C)</tspan></text>
<text y="164.5" font-size="7.21" fill="#000" stroke="#000" stroke-width="0.2" transform="matrix(1.06404 0.00100 0 1 -18.5082 -0.3194)"><tspan x="289.27 292.1 296.53 301.31 306.09 310.69 317.35 324.05 328.39 333.85 335.7 338.08 341.14 346.48" font-weight="bold">(e)Summer(JJA)</tspan></text>
<g transform="translate(211.6 231.75) rotate(-90)"><text y="0" font-size="7.21" fill="#000" stroke="#000" stroke-width="0.2" transform="matrix(1.04186 0.00100 0 1 0.3492 0.0028)"><tspan x="-8.42 -3.32 2.36" font-weight="bold">AOD</tspan></text></g>
<text y="182.95" font-size="7.31" fill="#000000" stroke="#000000" stroke-width="0.08" transform="matrix(1.10676 0.00100 0 1 -26.3694 -0.3200)"><tspan x="246.67 250.68 254.83 256.94 260.94 262.31 266.49 271.55" font-style="italic">TotalAOD</tspan><tspan x="278.28 284.24 287.15 291.85 295.84 297.8 301.77 305.73 309.75">=(−0.000)</tspan><tspan x="312.2" font-style="italic">x</tspan><tspan x="317.56 323.52 325.91 329.9 331.85 335.82 339.79 343.8 346.21">+(0.081),</tspan><tspan x="348.96" font-style="italic">R</tspan><tspan x="355.46 363.11 369.02 373.01 374.97 378.93">=−0.02</tspan></text>
<text y="189" font-size="7.31" fill="#ff0000" stroke="#ff0000" stroke-width="0.08" transform="matrix(1.11736 0.00100 0 1 -28.9877 -0.3084)"><tspan x="246.68 250.75" font-style="italic">BC</tspan><tspan x="257.2 263.12 265.99 270.64 274.61 276.53 280.46 284.39 288.38">=(−0.000)</tspan><tspan x="290.8" font-style="italic">x</tspan><tspan x="296.11 302.02 304.37 308.34 310.27 314.2 318.12 322.11 324.5">+(0.002),</tspan><tspan x="327.2" font-style="italic">R</tspan><tspan x="333.64 341.22 347.08 351.04 352.97 356.9">=−0.10</tspan></text>
<text y="195.05" font-size="7.31" fill="#32cd32" stroke="#32cd32" stroke-width="0.08" transform="matrix(1.11876 0.00100 0 1 -29.3334 -0.3087)"><tspan x="246.58 251.52" font-style="italic">OA</tspan><tspan x="257.72 263.63 266.5 271.15 275.11 277.03 280.96 284.88 288.86">=(−0.000)</tspan><tspan x="291.28" font-style="italic">x</tspan><tspan x="296.58 302.49 304.84 308.8 310.72 314.64 318.57 322.55 324.93">+(0.016),</tspan><tspan x="327.63" font-style="italic">R</tspan><tspan x="334.07 341.64 347.49 351.45 353.37 357.3">=−0.09</tspan></text>
<text y="201.1" font-size="7.31" fill="#ff8c00" stroke="#ff8c00" stroke-width="0.08" transform="matrix(1.12648 0.00100 0 1 -31.2398 -0.3117)"><tspan x="246.72 251.62 255.37 258.97" font-style="italic">Dust</tspan><tspan x="262.82 268.69 271.53 276.15 280.09 281.99 285.89 289.79 293.75">=(−0.000)</tspan><tspan x="296.14" font-style="italic">x</tspan><tspan x="301.41 307.28 309.61 313.55 315.45 319.35 323.24 327.2 329.57">+(0.007),</tspan><tspan x="332.24" font-style="italic">R</tspan><tspan x="338.64 346.16 351.97 355.91 357.81 361.71">=−0.06</tspan></text>
<text y="207.15" font-size="7.31" fill="#ffd700" stroke="#ffd700" stroke-width="0.08" transform="matrix(1.09230 0.00100 0 1 -22.7981 -0.3009)"><tspan x="246.57 250.58" font-style="italic">SS</tspan><tspan x="256.76 262.79 265.21 269.25 271.24 275.26 279.28 283.34">=(0.000)</tspan><tspan x="285.83" font-style="italic">x</tspan><tspan x="291.27 297.29 299.72 303.75 305.75 309.77 313.78 317.84 320.28">+(0.015),</tspan><tspan x="323.08" font-style="italic">R</tspan><tspan x="329.66 335.65 339.68 341.68 345.7">=0.06</tspan></text>
<text y="213.2" font-size="7.31" fill="#0000cd" stroke="#0000cd" stroke-width="0.08" transform="matrix(1.09344 0.00100 0 1 -23.0790 -0.3036)"><tspan x="246.56 250.64" font-style="italic">SO</tspan><tspan x="255.95 261.72 267.75 270.17 274.2 276.19 280.2 284.22 288.27">4=(0.000)</tspan><tspan x="290.76" font-style="italic">x</tspan><tspan x="296.19 302.22 304.64 308.67 310.66 314.67 318.69 322.74 325.18">+(0.042),</tspan><tspan x="327.98" font-style="italic">R</tspan><tspan x="334.55 340.53 344.56 346.55 350.57">=0.02</tspan></text>
<g clip-path="url(#c5)">
<path fill="#000000" stroke="#000000" stroke-width="0.0" d="M458.5 217.2L456.3 221.4L460.7 221.4ZM457.9 223L455.7 227.2L460.1 227.2ZM460.8 224.7L458.6 228.9L463 228.9ZM463.1 221.2L460.9 225.4L465.3 225.4ZM461.4 226.5L459.2 230.7L463.6 230.7ZM534.8 222.8L532.6 227L537 227ZM533.1 225.2L530.9 229.4L535.3 229.4ZM533.4 228.5L531.2 232.7L535.6 232.7ZM533.9 230.7L531.7 234.9L536.1 234.9ZM581.5 235.1L579.3 239.3L583.7 239.3ZM580.7 237.2L578.5 241.4L582.9 241.4ZM582.2 240.1L580 244.3L584.4 244.3ZM581.5 241.5L579.3 245.7L583.7 245.7ZM588.6 235.8L586.4 240L590.8 240ZM589.3 238.7L587.1 242.9L591.5 242.9ZM588.6 240.8L586.4 245L590.8 245ZM590 243.7L587.8 247.9L592.2 247.9ZM595.8 237.9L593.6 242.1L598 242.1ZM595.1 240.8L592.9 245L597.3 245ZM595.8 243.7L593.6 247.9L598 247.9ZM595.5 246.5L593.3 250.7L597.7 250.7ZM581.5 238.4L579.3 242.6L583.7 242.6ZM582.3 236.4L580.1 240.6L584.5 240.6ZM580.8 240.7L578.6 244.9L583 244.9ZM589.3 241.4L587.1 245.6L591.5 245.6ZM589.5 244.4L587.3 248.6L591.7 248.6ZM588.2 242.9L586 247.1L590.4 247.1ZM595.5 242.4L593.3 246.6L597.7 246.6ZM596 245.4L593.8 249.6L598.2 249.6ZM594.8 244.4L592.6 248.6L597 248.6Z"/>
<line x1="445" y1="220.2" x2="609" y2="245.2" stroke="#000000" stroke-width="0.9"/>
<path fill="#ff0000" stroke="#ff0000" stroke-width="0.0" d="M457.5 288.7L455.3 292.9L459.7 292.9ZM460 288.7L457.8 292.9L462.2 292.9ZM463 288.7L460.8 292.9L465.2 292.9ZM533.9 288.5L531.7 292.7L536.1 292.7ZM581.5 288.4L579.3 292.6L583.7 292.6ZM588.6 288.4L586.4 292.6L590.8 292.6ZM595.8 288.4L593.6 292.6L598 292.6Z"/>
<line x1="445" y1="289.8" x2="609" y2="290.5" stroke="#ff0000" stroke-width="0.9"/>
<path fill="#32cd32" stroke="#32cd32" stroke-width="0.0" d="M457.5 285.7L455.3 289.9L459.7 289.9ZM462 285.4L459.8 289.6L464.2 289.6ZM460 286.4L457.8 290.6L462.2 290.6ZM533.9 277.9L531.7 282.1L536.1 282.1ZM533.9 285.3L531.7 289.5L536.1 289.5ZM581.5 277.3L579.3 281.5L583.7 281.5ZM588.6 283.1L586.4 287.3L590.8 287.3ZM589 280.9L586.8 285.1L591.2 285.1ZM595.8 277.3L593.6 281.5L598 281.5ZM595.8 279.9L593.6 284.1L598 284.1Z"/>
<line x1="445" y1="288.2" x2="609" y2="281.6" stroke="#32cd32" stroke-width="0.9"/>
<path fill="#ff8c00" stroke="#ff8c00" stroke-width="0.0" d="M457 281.4L454.8 285.6L459.2 285.6ZM460 281.9L457.8 286.1L462.2 286.1ZM463 281.4L460.8 285.6L465.2 285.6ZM458.5 283.4L456.3 287.6L460.7 287.6ZM462 283.7L459.8 287.9L464.2 287.9ZM533.9 283.4L531.7 287.6L536.1 287.6ZM581.5 285.9L579.3 290.1L583.7 290.1ZM588.6 285.9L586.4 290.1L590.8 290.1ZM595.8 285.9L593.6 290.1L598 290.1Z"/>
<line x1="445" y1="283.5" x2="609" y2="287.7" stroke="#ff8c00" stroke-width="0.9"/>
<path fill="#ffd700" stroke="#ffd700" stroke-width="0.0" d="M457.9 275.5L455.7 279.7L460.1 279.7ZM462.4 272.6L460.2 276.8L464.6 276.8ZM463.5 274.9L461.3 279.1L465.7 279.1ZM459 276.9L456.8 281.1L461.2 281.1ZM533.9 279.6L531.7 283.8L536.1 283.8ZM533.9 281.2L531.7 285.4L536.1 285.4ZM533.5 277.9L531.3 282.1L535.7 282.1ZM581.5 283.1L579.3 287.3L583.7 287.3ZM582 280.9L579.8 285.1L584.2 285.1ZM588.6 275.2L586.4 279.4L590.8 279.4ZM589.3 277.4L587.1 281.6L591.5 281.6ZM595.8 281.6L593.6 285.8L598 285.8ZM595.5 283.4L593.3 287.6L597.7 287.6Z"/>
<line x1="445" y1="277.3" x2="609" y2="284.3" stroke="#ffd700" stroke-width="0.9"/>
<path fill="#0000cd" stroke="#0000cd" stroke-width="0.0" d="M457.9 249.6L455.7 253.8L460.1 253.8ZM462.6 249.6L460.4 253.8L464.8 253.8ZM460.8 252.5L458.6 256.7L463 256.7ZM533.9 251.6L531.7 255.8L536.1 255.8ZM533.4 254.1L531.2 258.3L535.6 258.3ZM581.5 260.1L579.3 264.3L583.7 264.3ZM582 261.4L579.8 265.6L584.2 265.6ZM588.6 266.6L586.4 270.8L590.8 270.8ZM589.3 267.9L587.1 272.1L591.5 272.1ZM595.8 265.9L593.6 270.1L598 270.1ZM595.1 267.4L592.9 271.6L597.3 271.6Z"/>
<line x1="445" y1="249.3" x2="609" y2="268" stroke="#0000cd" stroke-width="0.9"/>
</g>
<rect x="445" y="171.5" width="164" height="120.5" fill="none" stroke="#333" stroke-width="1.0"/>
<path d="M445 292v3.8M445 171.5v-3.8M481.44 292v3.8M481.44 171.5v-3.8M517.89 292v3.8M517.89 171.5v-3.8M554.33 292v3.8M554.33 171.5v-3.8M590.78 292v3.8M590.78 171.5v-3.8M445 292h-3.8M609 292h3.8M445 261.88h-3.8M609 261.88h3.8M445 231.75h-3.8M609 231.75h3.8M445 201.62h-3.8M609 201.62h3.8M445 171.5h-3.8M609 171.5h3.8" stroke="#000" stroke-width="0.8" fill="none"/>
<path d="M445 292v2.3M445 171.5v-2.3M463.22 292v2.3M463.22 171.5v-2.3M481.44 292v2.3M481.44 171.5v-2.3M499.67 292v2.3M499.67 171.5v-2.3M517.89 292v2.3M517.89 171.5v-2.3M536.11 292v2.3M536.11 171.5v-2.3M554.33 292v2.3M554.33 171.5v-2.3M572.56 292v2.3M572.56 171.5v-2.3M590.78 292v2.3M590.78 171.5v-2.3M609 292v2.3M609 171.5v-2.3M445 285.98h-2.3M609 285.98h2.3M445 279.95h-2.3M609 279.95h2.3M445 273.93h-2.3M609 273.93h2.3M445 267.9h-2.3M609 267.9h2.3M445 255.85h-2.3M609 255.85h2.3M445 249.82h-2.3M609 249.82h2.3M445 243.8h-2.3M609 243.8h2.3M445 237.78h-2.3M609 237.78h2.3M445 225.73h-2.3M609 225.73h2.3M445 219.7h-2.3M609 219.7h2.3M445 213.68h-2.3M609 213.68h2.3M445 207.65h-2.3M609 207.65h2.3M445 195.6h-2.3M609 195.6h2.3M445 189.57h-2.3M609 189.57h2.3M445 183.55h-2.3M609 183.55h2.3M445 177.53h-2.3M609 177.53h2.3" stroke="#000" stroke-width="0.6" fill="none"/>
<text y="304.2" font-size="7.21" fill="#000" stroke="#000" stroke-width="0.2" transform="matrix(1.23993 0.00100 0 1 -104.9495 -0.4426)"><tspan x="437.61 441.92 445.73" font-weight="bold">−20</tspan></text>
<text y="304.2" font-size="7.21" fill="#000" stroke="#000" stroke-width="0.2" transform="matrix(1.23993 0.00100 0 1 -113.6936 -0.4791)"><tspan x="474.06 478.36 482.18" font-weight="bold">−15</tspan></text>
<text y="304.2" font-size="7.21" fill="#000" stroke="#000" stroke-width="0.2" transform="matrix(1.23993 0.00100 0 1 -122.4377 -0.5155)"><tspan x="510.5 514.81 518.62" font-weight="bold">−10</tspan></text>
<text y="304.2" font-size="7.21" fill="#000" stroke="#000" stroke-width="0.2" transform="matrix(1.26903 0.00100 0 1 -147.7306 -0.5520)"><tspan x="549.26 553.47" font-weight="bold">−5</tspan></text>
<text y="304.2" font-size="7.21" fill="#000" stroke="#000" stroke-width="0.2" transform="matrix(1.18027 0.00100 0 1 -106.0705 -0.5884)"><tspan x="588.41" font-weight="bold">0</tspan></text>
<text y="295" font-size="7.21" fill="#000" stroke="#000" stroke-width="0.2" transform="matrix(1.19592 0.00100 0 1 -82.5865 -0.4275)"><tspan x="421.5 425.56 427.61 431.57" font-weight="bold">0.00</tspan></text>
<text y="264.88" font-size="7.21" fill="#000" stroke="#000" stroke-width="0.2" transform="matrix(1.19592 0.00100 0 1 -82.5865 -0.4275)"><tspan x="421.5 425.56 427.61 431.57" font-weight="bold">0.05</tspan></text>
<text y="234.75" font-size="7.21" fill="#000" stroke="#000" stroke-width="0.2" transform="matrix(1.19592 0.00100 0 1 -82.5865 -0.4275)"><tspan x="421.5 425.56 427.61 431.57" font-weight="bold">0.10</tspan></text>
<text y="204.62" font-size="7.21" fill="#000" stroke="#000" stroke-width="0.2" transform="matrix(1.19592 0.00100 0 1 -82.5865 -0.4275)"><tspan x="421.5 425.56 427.61 431.57" font-weight="bold">0.15</tspan></text>
<text y="174.5" font-size="7.21" fill="#000" stroke="#000" stroke-width="0.2" transform="matrix(1.19592 0.00100 0 1 -82.5865 -0.4275)"><tspan x="421.5 425.56 427.61 431.57" font-weight="bold">0.20</tspan></text>
<text y="313.3" font-size="7.21" fill="#000" stroke="#000" stroke-width="0.2" transform="matrix(1.13914 0.00100 0 1 -68.7443 -0.5254)"><tspan x="493.89 498.15 501.29 507.54 511.9 516 518.88 523.13 525.68 530.07 532.97 539.24 541.85 544.37 549.33" font-weight="bold">Temperature(°C)</tspan></text>
<text y="164.5" font-size="7.21" fill="#000" stroke="#000" stroke-width="0.2" transform="matrix(1.14696 0.00100 0 1 -69.9938 -0.5254)"><tspan x="476.44 479.08 481.73 486.17 490.23 493.89 496.51 500.53 504.76 507.05 511.51 515.89 518.77 520.7 524.93 529.63 533.95 538.4 542.59 548.77 555.07 559.15 562.16" font-weight="bold">(f)Total(Spring+Summer)</tspan></text>
<g transform="translate(417.6 231.75) rotate(-90)"><text y="0" font-size="7.21" fill="#000" stroke="#000" stroke-width="0.2" transform="matrix(1.04186 0.00100 0 1 0.3492 0.0028)"><tspan x="-8.42 -3.32 2.36" font-weight="bold">AOD</tspan></text></g>
<text y="182.95" font-size="7.31" fill="#000000" stroke="#000000" stroke-width="0.08" transform="matrix(1.10676 0.00100 0 1 -48.3616 -0.5260)"><tspan x="452.67 456.68 460.83 462.94 466.94 468.31 472.49 477.55" font-style="italic">TotalAOD</tspan><tspan x="484.28 490.24 493.15 497.85 501.84 503.8 507.77 511.73 515.75">=(−0.002)</tspan><tspan x="518.2" font-style="italic">x</tspan><tspan x="523.56 529.52 531.91 535.9 537.85 541.82 545.79 549.8 552.21">+(0.082),</tspan><tspan x="554.96" font-style="italic">R</tspan><tspan x="561.46 569.11 575.02 579.01 580.97 584.93">=−0.91</tspan></text>
<text y="189" font-size="7.31" fill="#ff0000" stroke="#ff0000" stroke-width="0.08" transform="matrix(1.11736 0.00100 0 1 -53.1637 -0.5143)"><tspan x="452.68 456.75" font-style="italic">BC</tspan><tspan x="463.2 469.12 471.99 476.64 480.61 482.53 486.46 490.39 494.38">=(−0.000)</tspan><tspan x="496.8" font-style="italic">x</tspan><tspan x="502.11 508.02 510.37 514.34 516.27 520.2 524.12 528.11 530.5">+(0.002),</tspan><tspan x="533.2" font-style="italic">R</tspan><tspan x="539.64 547.22 553.08 557.04 558.81 562.74">=−0.81</tspan></text>
<text y="195.05" font-size="7.31" fill="#32cd32" stroke="#32cd32" stroke-width="0.08" transform="matrix(1.09763 0.00100 0 1 -44.2264 -0.5076)"><tspan x="452.63 457.66" font-style="italic">OA</tspan><tspan x="463.97 469.97 472.38 476.4 478.38 482.38 486.38 490.42">=(0.000)</tspan><tspan x="492.9" font-style="italic">x</tspan><tspan x="498.31 504.31 506.72 510.74 512.72 516.72 520.72 524.76 527.19">+(0.016),</tspan><tspan x="529.97" font-style="italic">R</tspan><tspan x="536.52 542.48 546.49 548.48 552.48">=0.67</tspan></text>
<text y="201.1" font-size="7.31" fill="#ff8c00" stroke="#ff8c00" stroke-width="0.08" transform="matrix(1.12648 0.00100 0 1 -57.2941 -0.5174)"><tspan x="452.72 457.62 461.37 464.97" font-style="italic">Dust</tspan><tspan x="468.82 474.69 477.53 482.15 486.09 487.99 491.89 495.79 499.75">=(−0.000)</tspan><tspan x="502.14" font-style="italic">x</tspan><tspan x="507.41 513.28 515.61 519.55 521.45 525.35 529.24 533.2 535.57">+(0.008),</tspan><tspan x="538.24" font-style="italic">R</tspan><tspan x="544.64 552.16 557.97 561.91 563.34 567.23">=−0.74</tspan></text>
<text y="207.15" font-size="7.31" fill="#ffd700" stroke="#ffd700" stroke-width="0.08" transform="matrix(1.11404 0.00100 0 1 -51.6596 -0.5140)"><tspan x="452.53 456.46" font-style="italic">SS</tspan><tspan x="462.53 468.46 471.34 476.01 479.98 481.92 485.86 489.8 493.79">=(−0.001)</tspan><tspan x="496.22" font-style="italic">x</tspan><tspan x="501.55 507.48 509.84 513.81 515.75 519.69 523.63 527.63 530.02">+(0.014),</tspan><tspan x="532.74" font-style="italic">R</tspan><tspan x="539.2 546.8 552.67 556.65 558.58 562.52">=−0.69</tspan></text>
<text y="213.2" font-size="7.31" fill="#0000cd" stroke="#0000cd" stroke-width="0.08" transform="matrix(1.11410 0.00100 0 1 -51.6872 -0.5167)"><tspan x="452.53 456.52" font-style="italic">SO</tspan><tspan x="461.74 467.41 473.34 476.22 480.89 484.86 486.8 490.74 494.68 498.68">4=(−0.001)</tspan><tspan x="501.11" font-style="italic">x</tspan><tspan x="506.43 512.36 514.72 518.69 520.63 524.57 528.51 532.51 534.9">+(0.043),</tspan><tspan x="537.62" font-style="italic">R</tspan><tspan x="544.08 551.68 557.55 561.52 563.3 567.24">=−0.88</tspan></text>
<g clip-path="url(#c6)">
<path fill="#000000" stroke="#000000" stroke-width="0.0" d="M84.4 377.2L82.2 381.4L86.6 381.4ZM93 378.9L90.8 383.1L95.2 383.1ZM91.8 382.5L89.6 386.7L94 386.7ZM94.2 384.9L92 389.1L96.4 389.1ZM91.8 386.9L89.6 391.1L94 391.1ZM87.6 390.3L85.4 394.5L89.8 394.5ZM99 381.3L96.8 385.5L101.2 385.5ZM100.3 383.8L98.1 388L102.5 388ZM99 385.5L96.8 389.7L101.2 389.7ZM109.6 383.8L107.4 388L111.8 388ZM106.4 389.1L104.2 393.3L108.6 393.3ZM108.8 390.3L106.6 394.5L111 394.5ZM116.1 383L113.9 387.2L118.3 387.2ZM119.3 380.6L117.1 384.8L121.5 384.8ZM118.6 389.9L116.4 394.1L120.8 394.1ZM124.7 380.6L122.5 384.8L126.9 384.8ZM135.7 383L133.5 387.2L137.9 387.2Z"/>
<line x1="33" y1="386.4" x2="197" y2="386.4" stroke="#000000" stroke-width="0.9"/>
<path fill="#ff0000" stroke="#ff0000" stroke-width="0.0" d="M85.3 446.9L83.1 451.1L87.5 451.1ZM91.8 446.9L89.6 451.1L94 451.1ZM99.3 447.3L97.1 451.5L101.5 451.5ZM106.3 446.9L104.1 451.1L108.5 451.1ZM109.8 446.9L107.6 451.1L112 451.1ZM115.9 446.9L113.7 451.1L118.1 451.1ZM119 446.9L116.8 451.1L121.2 451.1ZM124.7 447.3L122.5 451.5L126.9 451.5ZM134.7 447.3L132.5 451.5L136.9 451.5Z"/>
<line x1="33" y1="449.3" x2="197" y2="449.4" stroke="#ff0000" stroke-width="0.9"/>
<path fill="#32cd32" stroke="#32cd32" stroke-width="0.0" d="M84.4 440.3L82.2 444.5L86.6 444.5ZM91.8 437.3L89.6 441.5L94 441.5ZM87.4 444.7L85.2 448.9L89.6 448.9ZM93.1 444.3L90.9 448.5L95.3 448.5ZM99.7 445.6L97.5 449.8L101.9 449.8ZM106.3 443.9L104.1 448.1L108.5 448.1ZM108 444.3L105.8 448.5L110.2 448.5ZM115.9 444.7L113.7 448.9L118.1 448.9ZM118.5 443.9L116.3 448.1L120.7 448.1ZM124.7 444.7L122.5 448.9L126.9 448.9ZM134.7 444.7L132.5 448.9L136.9 448.9Z"/>
<line x1="33" y1="445.1" x2="197" y2="446.4" stroke="#32cd32" stroke-width="0.9"/>
<path fill="#ff8c00" stroke="#ff8c00" stroke-width="0.0" d="M85.3 441.7L83.1 445.9L87.5 445.9ZM93.1 441.2L90.9 445.4L95.3 445.4ZM99.7 441.7L97.5 445.9L101.9 445.9ZM106.3 441.7L104.1 445.9L108.5 445.9ZM109.8 441.7L107.6 445.9L112 445.9ZM115.9 441.7L113.7 445.9L118.1 445.9ZM118.5 441.7L116.3 445.9L120.7 445.9ZM124.7 441.2L122.5 445.4L126.9 445.4ZM135 441.7L132.8 445.9L137.2 445.9Z"/>
<line x1="33" y1="444.4" x2="197" y2="442.2" stroke="#ff8c00" stroke-width="0.9"/>
<path fill="#ffd700" stroke="#ffd700" stroke-width="0.0" d="M84.8 435.5L82.6 439.7L87 439.7ZM93.6 433.8L91.4 438L95.8 438ZM98.8 432L96.6 436.2L101 436.2ZM99.7 434.2L97.5 438.4L101.9 438.4ZM115.9 435.1L113.7 439.3L118.1 439.3ZM119.4 436L117.2 440.2L121.6 440.2ZM124.7 433.8L122.5 438L126.9 438ZM134.7 435.1L132.5 439.3L136.9 439.3ZM87 439.9L84.8 444.1L89.2 444.1ZM92.3 439.5L90.1 443.7L94.5 443.7ZM106.3 439.9L104.1 444.1L108.5 444.1ZM109.3 439L107.1 443.2L111.5 443.2ZM118.5 439.9L116.3 444.1L120.7 444.1Z"/>
<line x1="33" y1="439.3" x2="197" y2="438.3" stroke="#ffd700" stroke-width="0.9"/>
<path fill="#0000cd" stroke="#0000cd" stroke-width="0.0" d="M84.4 408.1L82.2 412.3L86.6 412.3ZM87.6 413L85.4 417.2L89.8 417.2ZM93 408.1L90.8 412.3L95.2 412.3ZM91.8 413L89.6 417.2L94 417.2ZM94.9 410.6L92.7 414.8L97.1 414.8ZM99 410.6L96.8 414.8L101.2 414.8ZM100.3 413L98.1 417.2L102.5 417.2ZM106.4 413.8L104.2 418L108.6 418ZM109.6 411.3L107.4 415.5L111.8 415.5ZM116.1 409.9L113.9 414.1L118.3 414.1ZM118.6 413.8L116.4 418L120.8 418ZM119.8 409.9L117.6 414.1L122 414.1ZM124.7 410.6L122.5 414.8L126.9 414.8ZM134.4 411.8L132.2 416L136.6 416ZM135.7 411.8L133.5 416L137.9 416Z"/>
<line x1="33" y1="412.3" x2="197" y2="415.1" stroke="#0000cd" stroke-width="0.9"/>
</g>
<rect x="33" y="330.5" width="164" height="121" fill="none" stroke="#333" stroke-width="1.0"/>
<path d="M33 451.5v3.8M33 330.5v-3.8M65.8 451.5v3.8M65.8 330.5v-3.8M98.6 451.5v3.8M98.6 330.5v-3.8M131.4 451.5v3.8M131.4 330.5v-3.8M164.2 451.5v3.8M164.2 330.5v-3.8M197 451.5v3.8M197 330.5v-3.8M33 451.5h-3.8M197 451.5h3.8M33 421.25h-3.8M197 421.25h3.8M33 391h-3.8M197 391h3.8M33 360.75h-3.8M197 360.75h3.8M33 330.5h-3.8M197 330.5h3.8" stroke="#000" stroke-width="0.8" fill="none"/>
<path d="M33 451.5v2.3M33 330.5v-2.3M49.4 451.5v2.3M49.4 330.5v-2.3M65.8 451.5v2.3M65.8 330.5v-2.3M82.2 451.5v2.3M82.2 330.5v-2.3M98.6 451.5v2.3M98.6 330.5v-2.3M115 451.5v2.3M115 330.5v-2.3M131.4 451.5v2.3M131.4 330.5v-2.3M147.8 451.5v2.3M147.8 330.5v-2.3M164.2 451.5v2.3M164.2 330.5v-2.3M180.6 451.5v2.3M180.6 330.5v-2.3M197 451.5v2.3M197 330.5v-2.3M33 445.45h-2.3M197 445.45h2.3M33 439.4h-2.3M197 439.4h2.3M33 433.35h-2.3M197 433.35h2.3M33 427.3h-2.3M197 427.3h2.3M33 415.2h-2.3M197 415.2h2.3M33 409.15h-2.3M197 409.15h2.3M33 403.1h-2.3M197 403.1h2.3M33 397.05h-2.3M197 397.05h2.3M33 384.95h-2.3M197 384.95h2.3M33 378.9h-2.3M197 378.9h2.3M33 372.85h-2.3M197 372.85h2.3M33 366.8h-2.3M197 366.8h2.3M33 354.7h-2.3M197 354.7h2.3M33 348.65h-2.3M197 348.65h2.3M33 342.6h-2.3M197 342.6h2.3M33 336.55h-2.3M197 336.55h2.3" stroke="#000" stroke-width="0.6" fill="none"/>
<text y="463.7" font-size="7.21" fill="#000" stroke="#000" stroke-width="0.2" transform="matrix(1.18027 0.00100 0 1 -5.0959 -0.0306)"><tspan x="28.27 32.28" font-weight="bold">30</tspan></text>
<text y="463.7" font-size="7.21" fill="#000" stroke="#000" stroke-width="0.2" transform="matrix(1.18027 0.00100 0 1 -11.0086 -0.0634)"><tspan x="61.07 65.08" font-weight="bold">32</tspan></text>
<text y="463.7" font-size="7.21" fill="#000" stroke="#000" stroke-width="0.2" transform="matrix(1.18027 0.00100 0 1 -16.9213 -0.0962)"><tspan x="93.87 97.88" font-weight="bold">34</tspan></text>
<text y="463.7" font-size="7.21" fill="#000" stroke="#000" stroke-width="0.2" transform="matrix(1.18027 0.00100 0 1 -22.8340 -0.1290)"><tspan x="126.67 130.68" font-weight="bold">36</tspan></text>
<text y="463.7" font-size="7.21" fill="#000" stroke="#000" stroke-width="0.2" transform="matrix(1.18027 0.00100 0 1 -28.7467 -0.1618)"><tspan x="159.47 163.48" font-weight="bold">38</tspan></text>
<text y="463.7" font-size="7.21" fill="#000" stroke="#000" stroke-width="0.2" transform="matrix(1.18027 0.00100 0 1 -34.6594 -0.1946)"><tspan x="192.27 196.28" font-weight="bold">40</tspan></text>
<text y="454.5" font-size="7.21" fill="#000" stroke="#000" stroke-width="0.2" transform="matrix(1.19592 0.00100 0 1 -1.8657 -0.0155)"><tspan x="9.5 13.56 15.61 19.57" font-weight="bold">0.00</tspan></text>
<text y="424.25" font-size="7.21" fill="#000" stroke="#000" stroke-width="0.2" transform="matrix(1.19592 0.00100 0 1 -1.8657 -0.0155)"><tspan x="9.5 13.56 15.61 19.57" font-weight="bold">0.05</tspan></text>
<text y="394" font-size="7.21" fill="#000" stroke="#000" stroke-width="0.2" transform="matrix(1.19592 0.00100 0 1 -1.8657 -0.0155)"><tspan x="9.5 13.56 15.61 19.57" font-weight="bold">0.10</tspan></text>
<text y="363.75" font-size="7.21" fill="#000" stroke="#000" stroke-width="0.2" transform="matrix(1.19592 0.00100 0 1 -1.8657 -0.0155)"><tspan x="9.5 13.56 15.61 19.57" font-weight="bold">0.15</tspan></text>
<text y="333.5" font-size="7.21" fill="#000" stroke="#000" stroke-width="0.2" transform="matrix(1.19592 0.00100 0 1 -1.8657 -0.0155)"><tspan x="9.5 13.56 15.61 19.57" font-weight="bold">0.20</tspan></text>
<text y="472.8" font-size="7.21" fill="#000" stroke="#000" stroke-width="0.2" transform="matrix(1.13721 0.00100 0 1 -10.0174 -0.1134)"><tspan x="72.71 77.63 81.69 83.73 87.98 90.63 92.6 96.58 102.59 107.63 111.87 118.21 120.17 124.54 126.79 129.37 135.57 137.93 144.29" font-weight="bold">RelativeHumidity(%)</tspan></text>
<text y="323.5" font-size="7.21" fill="#000" stroke="#000" stroke-width="0.2" transform="matrix(1.13423 0.00100 0 1 -11.4618 -0.1134)"><tspan x="85.56 88.07 92.59 97 101.51 105.93 108.84 110.8 115.08 121.69 123.97 128.88 135.03" font-weight="bold">(g)Spring(AM)</tspan></text>
<g transform="translate(5.6 391) rotate(-90)"><text y="0" font-size="7.21" fill="#000" stroke="#000" stroke-width="0.2" transform="matrix(1.04186 0.00100 0 1 0.3492 0.0028)"><tspan x="-8.42 -3.32 2.36" font-weight="bold">AOD</tspan></text></g>
<text y="341.95" font-size="7.31" fill="#000000" stroke="#000000" stroke-width="0.08" transform="matrix(1.10676 0.00100 0 1 -4.3771 -0.1140)"><tspan x="40.67 44.68 48.83 50.94 54.94 56.31 60.49 65.55" font-style="italic">TotalAOD</tspan><tspan x="72.28 78.24 81.15 85.85 89.84 91.8 95.77 99.73 103.75">=(−0.000)</tspan><tspan x="106.2" font-style="italic">x</tspan><tspan x="111.56 117.52 119.91 123.9 125.85 129.82 133.79 137.8 140.21">+(0.110),</tspan><tspan x="142.96" font-style="italic">R</tspan><tspan x="149.46 157.11 163.02 167.01 168.97 172.93">=−0.01</tspan></text>
<text y="348" font-size="7.31" fill="#ff0000" stroke="#ff0000" stroke-width="0.08" transform="matrix(1.09601 0.00100 0 1 -3.9365 -0.0953)"><tspan x="40.72 44.88" font-style="italic">BC</tspan><tspan x="51.44 57.45 59.87 63.89 65.87 69.88 73.89 77.93">=(0.000)</tspan><tspan x="80.41" font-style="italic">x</tspan><tspan x="85.83 91.84 94.26 98.28 100.26 104.27 108.27 112.32 114.75">+(0.002),</tspan><tspan x="117.54" font-style="italic">R</tspan><tspan x="124.1 130.07 134.09 136.07 140.08">=0.07</tspan></text>
<text y="354.05" font-size="7.31" fill="#32cd32" stroke="#32cd32" stroke-width="0.08" transform="matrix(1.11876 0.00100 0 1 -4.8691 -0.1027)"><tspan x="40.58 45.52" font-style="italic">OA</tspan><tspan x="51.72 57.63 60.5 65.15 69.11 71.03 74.96 78.88 82.86">=(−0.000)</tspan><tspan x="85.28" font-style="italic">x</tspan><tspan x="90.58 96.49 98.84 102.8 104.72 108.64 112.57 116.55 118.93">+(0.017),</tspan><tspan x="121.63" font-style="italic">R</tspan><tspan x="128.07 135.64 141.49 145.45 147.37 151.3">=−0.07</tspan></text>
<text y="360.1" font-size="7.31" fill="#ff8c00" stroke="#ff8c00" stroke-width="0.08" transform="matrix(1.11712 0.00100 0 1 -4.8020 -0.1014)"><tspan x="40.74 45.68 49.45 53.08" font-style="italic">Dust</tspan><tspan x="56.97 62.88 65.23 69.2 71.13 75.06 78.99 82.97">=(0.000)</tspan><tspan x="85.39" font-style="italic">x</tspan><tspan x="90.7 96.62 99.49 104.15 108.11 110.04 113.97 117.9 121.89 124.27">+(−0.001),</tspan><tspan x="126.98" font-style="italic">R</tspan><tspan x="133.42 139.28 143.24 145.17 149.1">=0.36</tspan></text>
<text y="366.15" font-size="7.31" fill="#ffd700" stroke="#ffd700" stroke-width="0.08" transform="matrix(1.09230 0.00100 0 1 -3.7843 -0.0949)"><tspan x="40.57 44.58" font-style="italic">SS</tspan><tspan x="50.76 56.79 59.21 63.25 65.24 69.26 73.28 77.34">=(0.000)</tspan><tspan x="79.83" font-style="italic">x</tspan><tspan x="85.27 91.29 93.72 97.75 99.75 103.77 107.78 111.84 114.28">+(0.013),</tspan><tspan x="117.08" font-style="italic">R</tspan><tspan x="123.66 129.65 133.68 135.68 139.7">=0.04</tspan></text>
<text y="372.2" font-size="7.31" fill="#0000cd" stroke="#0000cd" stroke-width="0.08" transform="matrix(1.11410 0.00100 0 1 -4.6781 -0.1048)"><tspan x="40.53 44.52" font-style="italic">SO</tspan><tspan x="49.74 55.41 61.34 64.22 68.89 72.86 74.8 78.74 82.68 86.68">4=(−0.000)</tspan><tspan x="89.11" font-style="italic">x</tspan><tspan x="94.43 100.36 102.72 106.69 108.63 112.57 116.51 120.51 122.9">+(0.078),</tspan><tspan x="125.62" font-style="italic">R</tspan><tspan x="132.08 139.68 145.55 149.52 151.46 155.4">=−0.14</tspan></text>
<g clip-path="url(#c7)">
<path fill="#000000" stroke="#000000" stroke-width="0.0" d="M289.2 400.8L287 405L291.4 405ZM293.6 393.5L291.4 397.7L295.8 397.7ZM295.3 396.7L293.1 400.9L297.5 400.9ZM296.5 402L294.3 406.2L298.7 406.2ZM297.8 398.4L295.6 402.6L300 402.6ZM306.3 399.1L304.1 403.3L308.5 403.3ZM311.2 404.5L309 408.7L313.4 408.7ZM311.7 402L309.5 406.2L313.9 406.2ZM315.6 398.4L313.4 402.6L317.8 402.6ZM317.3 395.2L315.1 399.4L319.5 399.4ZM318.5 397.7L316.3 401.9L320.7 401.9ZM339.2 399.1L337 403.3L341.4 403.3ZM341.7 404.5L339.5 408.7L343.9 408.7ZM342.9 398.4L340.7 402.6L345.1 402.6ZM344.1 395.9L341.9 400.1L346.3 400.1ZM342.4 402L340.2 406.2L344.6 406.2Z"/>
<line x1="239" y1="399.7" x2="403" y2="404.3" stroke="#000000" stroke-width="0.9"/>
<path fill="#ff0000" stroke="#ff0000" stroke-width="0.0" d="M289.3 447.7L287.1 451.9L291.5 451.9ZM294.5 447.7L292.3 451.9L296.7 451.9ZM297.3 447.7L295.1 451.9L299.5 451.9ZM306.3 447.7L304.1 451.9L308.5 451.9ZM311.6 447.7L309.4 451.9L313.8 451.9ZM317.7 447.7L315.5 451.9L319.9 451.9ZM341.9 447.7L339.7 451.9L344.1 451.9ZM291.5 447.8L289.3 452L293.7 452ZM300 447.8L297.8 452L302.2 452ZM309 447.8L306.8 452L311.2 452ZM314 447.8L311.8 452L316.2 452ZM320 447.8L317.8 452L322.2 452ZM339 447.8L336.8 452L341.2 452ZM344.5 447.8L342.3 452L346.7 452Z"/>
<line x1="239" y1="450" x2="403" y2="450.3" stroke="#ff0000" stroke-width="0.9"/>
<path fill="#32cd32" stroke="#32cd32" stroke-width="0.0" d="M289.3 435.9L287.1 440.1L291.5 440.1ZM293.5 435.9L291.3 440.1L295.7 440.1ZM297.3 437.3L295.1 441.5L299.5 441.5ZM306.3 436.3L304.1 440.5L308.5 440.5ZM317.3 434.9L315.1 439.1L319.5 439.1ZM339.1 436.8L336.9 441L341.3 441ZM344.3 441.1L342.1 445.3L346.5 445.3ZM311.6 443.5L309.4 447.7L313.8 447.7ZM290.7 441.6L288.5 445.8L292.9 445.8Z"/>
<line x1="239" y1="440" x2="403" y2="443.1" stroke="#32cd32" stroke-width="0.9"/>
<path fill="#ff8c00" stroke="#ff8c00" stroke-width="0.0" d="M289.3 445.8L287.1 450L291.5 450ZM296.4 445.8L294.2 450L298.6 450ZM306.3 445.8L304.1 450L308.5 450ZM311.6 445.8L309.4 450L313.8 450ZM317.7 445.8L315.5 450L319.9 450ZM341 445.8L338.8 450L343.2 450ZM343 445.8L340.8 450L345.2 450ZM291.5 445.4L289.3 449.6L293.7 449.6ZM294 445.8L291.8 450L296.2 450ZM299 445.8L296.8 450L301.2 450ZM313.5 445.8L311.3 450L315.7 450ZM315.5 445.8L313.3 450L317.7 450ZM320 445.8L317.8 450L322.2 450ZM339 445.8L336.8 450L341.2 450ZM344 445.8L341.8 450L346.2 450Z"/>
<line x1="239" y1="446.5" x2="403" y2="447.2" stroke="#ff8c00" stroke-width="0.9"/>
<path fill="#ffd700" stroke="#ffd700" stroke-width="0.0" d="M289.3 442.5L287.1 446.7L291.5 446.7ZM294.5 442L292.3 446.2L296.7 446.2ZM296.9 437.8L294.7 442L299.1 442ZM297.3 443L295.1 447.2L299.5 447.2ZM306.3 441.6L304.1 445.8L308.5 445.8ZM311.6 435.4L309.4 439.6L313.8 439.6ZM315.4 442.5L313.2 446.7L317.6 446.7ZM318.2 437.3L316 441.5L320.4 441.5ZM318.6 442.5L316.4 446.7L320.8 446.7ZM341.9 434L339.7 438.2L344.1 438.2ZM341 440.1L338.8 444.3L343.2 444.3ZM342.9 443.5L340.7 447.7L345.1 447.7ZM341.5 436.9L339.3 441.1L343.7 441.1ZM342.5 439.4L340.3 443.6L344.7 443.6ZM340.5 441.9L338.3 446.1L342.7 446.1ZM291.5 442.9L289.3 447.1L293.7 447.1ZM299.5 442.4L297.3 446.6L301.7 446.6ZM313 441.9L310.8 446.1L315.2 446.1ZM320.5 442.9L318.3 447.1L322.7 447.1Z"/>
<line x1="239" y1="442.8" x2="403" y2="442" stroke="#ffd700" stroke-width="0.9"/>
<path fill="#0000cd" stroke="#0000cd" stroke-width="0.0" d="M289.2 420.3L287 424.5L291.4 424.5ZM289.2 425.9L287 430.1L291.4 430.1ZM294.6 419.1L292.4 423.3L296.8 423.3ZM296.5 425.2L294.3 429.4L298.7 429.4ZM306.3 425.2L304.1 429.4L308.5 429.4ZM311.7 426.4L309.5 430.6L313.9 430.6ZM315.6 419.6L313.4 423.8L317.8 423.8ZM318.5 419.6L316.3 423.8L320.7 423.8ZM317.3 425.9L315.1 430.1L319.5 430.1ZM339.2 423.5L337 427.7L341.4 427.7ZM342.4 426.4L340.2 430.6L344.6 430.6ZM344.6 419.1L342.4 423.3L346.8 423.3Z"/>
<line x1="239" y1="425.4" x2="403" y2="426.2" stroke="#0000cd" stroke-width="0.9"/>
</g>
<rect x="239" y="330.5" width="164" height="121" fill="none" stroke="#333" stroke-width="1.0"/>
<path d="M239 451.5v3.8M239 330.5v-3.8M271.8 451.5v3.8M271.8 330.5v-3.8M304.6 451.5v3.8M304.6 330.5v-3.8M337.4 451.5v3.8M337.4 330.5v-3.8M370.2 451.5v3.8M370.2 330.5v-3.8M403 451.5v3.8M403 330.5v-3.8M239 451.5h-3.8M403 451.5h3.8M239 421.25h-3.8M403 421.25h3.8M239 391h-3.8M403 391h3.8M239 360.75h-3.8M403 360.75h3.8M239 330.5h-3.8M403 330.5h3.8" stroke="#000" stroke-width="0.8" fill="none"/>
<path d="M239 451.5v2.3M239 330.5v-2.3M255.4 451.5v2.3M255.4 330.5v-2.3M271.8 451.5v2.3M271.8 330.5v-2.3M288.2 451.5v2.3M288.2 330.5v-2.3M304.6 451.5v2.3M304.6 330.5v-2.3M321 451.5v2.3M321 330.5v-2.3M337.4 451.5v2.3M337.4 330.5v-2.3M353.8 451.5v2.3M353.8 330.5v-2.3M370.2 451.5v2.3M370.2 330.5v-2.3M386.6 451.5v2.3M386.6 330.5v-2.3M403 451.5v2.3M403 330.5v-2.3M239 445.45h-2.3M403 445.45h2.3M239 439.4h-2.3M403 439.4h2.3M239 433.35h-2.3M403 433.35h2.3M239 427.3h-2.3M403 427.3h2.3M239 415.2h-2.3M403 415.2h2.3M239 409.15h-2.3M403 409.15h2.3M239 403.1h-2.3M403 403.1h2.3M239 397.05h-2.3M403 397.05h2.3M239 384.95h-2.3M403 384.95h2.3M239 378.9h-2.3M403 378.9h2.3M239 372.85h-2.3M403 372.85h2.3M239 366.8h-2.3M403 366.8h2.3M239 354.7h-2.3M403 354.7h2.3M239 348.65h-2.3M403 348.65h2.3M239 342.6h-2.3M403 342.6h2.3M239 336.55h-2.3M403 336.55h2.3" stroke="#000" stroke-width="0.6" fill="none"/>
<text y="463.7" font-size="7.21" fill="#000" stroke="#000" stroke-width="0.2" transform="matrix(1.18027 0.00100 0 1 -42.2306 -0.2366)"><tspan x="234.27 238.28" font-weight="bold">30</tspan></text>
<text y="463.7" font-size="7.21" fill="#000" stroke="#000" stroke-width="0.2" transform="matrix(1.18027 0.00100 0 1 -48.1433 -0.2694)"><tspan x="267.07 271.08" font-weight="bold">32</tspan></text>
<text y="463.7" font-size="7.21" fill="#000" stroke="#000" stroke-width="0.2" transform="matrix(1.18027 0.00100 0 1 -54.0560 -0.3022)"><tspan x="299.87 303.88" font-weight="bold">34</tspan></text>
<text y="463.7" font-size="7.21" fill="#000" stroke="#000" stroke-width="0.2" transform="matrix(1.18027 0.00100 0 1 -59.9687 -0.3350)"><tspan x="332.67 336.68" font-weight="bold">36</tspan></text>
<text y="463.7" font-size="7.21" fill="#000" stroke="#000" stroke-width="0.2" transform="matrix(1.18027 0.00100 0 1 -65.8814 -0.3678)"><tspan x="365.47 369.48" font-weight="bold">38</tspan></text>
<text y="463.7" font-size="7.21" fill="#000" stroke="#000" stroke-width="0.2" transform="matrix(1.18027 0.00100 0 1 -71.7942 -0.4006)"><tspan x="398.27 402.28" font-weight="bold">40</tspan></text>
<text y="454.5" font-size="7.21" fill="#000" stroke="#000" stroke-width="0.2" transform="matrix(1.19592 0.00100 0 1 -42.2261 -0.2215)"><tspan x="215.5 219.56 221.61 225.57" font-weight="bold">0.00</tspan></text>
<text y="424.25" font-size="7.21" fill="#000" stroke="#000" stroke-width="0.2" transform="matrix(1.19592 0.00100 0 1 -42.2261 -0.2215)"><tspan x="215.5 219.56 221.61 225.57" font-weight="bold">0.05</tspan></text>
<text y="394" font-size="7.21" fill="#000" stroke="#000" stroke-width="0.2" transform="matrix(1.19592 0.00100 0 1 -42.2261 -0.2215)"><tspan x="215.5 219.56 221.61 225.57" font-weight="bold">0.10</tspan></text>
<text y="363.75" font-size="7.21" fill="#000" stroke="#000" stroke-width="0.2" transform="matrix(1.19592 0.00100 0 1 -42.2261 -0.2215)"><tspan x="215.5 219.56 221.61 225.57" font-weight="bold">0.15</tspan></text>
<text y="333.5" font-size="7.21" fill="#000" stroke="#000" stroke-width="0.2" transform="matrix(1.19592 0.00100 0 1 -42.2261 -0.2215)"><tspan x="215.5 219.56 221.61 225.57" font-weight="bold">0.20</tspan></text>
<text y="472.8" font-size="7.21" fill="#000" stroke="#000" stroke-width="0.2" transform="matrix(1.13721 0.00100 0 1 -38.2835 -0.3194)"><tspan x="278.71 283.63 287.69 289.73 293.98 296.63 298.6 302.58 308.59 313.63 317.87 324.21 326.17 330.54 332.79 335.37 341.57 343.93 350.29" font-weight="bold">RelativeHumidity(%)</tspan></text>
<text y="323.5" font-size="7.21" fill="#000" stroke="#000" stroke-width="0.2" transform="matrix(1.06065 0.00100 0 1 -17.5206 -0.3194)"><tspan x="289.16 291.91 296.66 301.46 306.25 310.87 317.55 324.27 328.62 334.1 335.96 338.34 341.42 346.77" font-weight="bold">(h)Summer(JJA)</tspan></text>
<g transform="translate(211.6 391) rotate(-90)"><text y="0" font-size="7.21" fill="#000" stroke="#000" stroke-width="0.2" transform="matrix(1.04186 0.00100 0 1 0.3492 0.0028)"><tspan x="-8.42 -3.32 2.36" font-weight="bold">AOD</tspan></text></g>
<text y="341.95" font-size="7.31" fill="#000000" stroke="#000000" stroke-width="0.08" transform="matrix(1.10676 0.00100 0 1 -26.3694 -0.3200)"><tspan x="246.67 250.68 254.83 256.94 260.94 262.31 266.49 271.55" font-style="italic">TotalAOD</tspan><tspan x="278.28 284.24 287.15 291.85 295.84 297.8 301.77 305.73 309.75">=(−0.001)</tspan><tspan x="312.2" font-style="italic">x</tspan><tspan x="317.56 323.52 325.91 329.9 331.85 335.82 339.79 343.8 346.21">+(0.107),</tspan><tspan x="348.96" font-style="italic">R</tspan><tspan x="355.46 363.11 369.02 373.01 374.97 378.93">=−0.18</tspan></text>
<text y="348" font-size="7.31" fill="#ff0000" stroke="#ff0000" stroke-width="0.08" transform="matrix(1.11736 0.00100 0 1 -28.9877 -0.3084)"><tspan x="246.68 250.75" font-style="italic">BC</tspan><tspan x="257.2 263.12 265.99 270.64 274.61 276.53 280.46 284.39 288.38">=(−0.000)</tspan><tspan x="290.8" font-style="italic">x</tspan><tspan x="296.11 302.02 304.37 308.34 310.27 314.2 318.12 322.11 324.5">+(0.003),</tspan><tspan x="327.2" font-style="italic">R</tspan><tspan x="333.64 341.22 347.08 351.04 352.97 356.9">=−0.18</tspan></text>
<text y="354.05" font-size="7.31" fill="#32cd32" stroke="#32cd32" stroke-width="0.08" transform="matrix(1.11876 0.00100 0 1 -29.3334 -0.3087)"><tspan x="246.58 251.52" font-style="italic">OA</tspan><tspan x="257.72 263.63 266.5 271.15 275.11 277.03 280.96 284.88 288.86">=(−0.001)</tspan><tspan x="291.28" font-style="italic">x</tspan><tspan x="296.58 302.49 304.84 308.8 310.72 314.64 318.57 322.55 324.93">+(0.037),</tspan><tspan x="327.63" font-style="italic">R</tspan><tspan x="334.07 341.64 347.49 351.45 353.37 357.3">=−0.18</tspan></text>
<text y="360.1" font-size="7.31" fill="#ff8c00" stroke="#ff8c00" stroke-width="0.08" transform="matrix(1.12648 0.00100 0 1 -31.2398 -0.3117)"><tspan x="246.72 251.62 255.37 258.97" font-style="italic">Dust</tspan><tspan x="262.82 268.69 271.53 276.15 280.09 281.99 285.89 289.79 293.75">=(−0.000)</tspan><tspan x="296.14" font-style="italic">x</tspan><tspan x="301.41 307.28 309.61 313.55 315.45 319.35 323.24 327.2 329.57">+(0.010),</tspan><tspan x="332.24" font-style="italic">R</tspan><tspan x="338.64 346.16 351.97 355.91 357.81 361.71">=−0.06</tspan></text>
<text y="366.15" font-size="7.31" fill="#ffd700" stroke="#ffd700" stroke-width="0.08" transform="matrix(1.09230 0.00100 0 1 -22.7981 -0.3009)"><tspan x="246.57 250.58" font-style="italic">SS</tspan><tspan x="256.76 262.79 265.21 269.25 271.24 275.26 279.28 283.34">=(0.000)</tspan><tspan x="285.83" font-style="italic">x</tspan><tspan x="291.27 297.29 299.72 303.75 305.75 309.77 313.78 317.84 320.28">+(0.010),</tspan><tspan x="323.08" font-style="italic">R</tspan><tspan x="329.66 335.65 339.68 341.68 345.7">=0.04</tspan></text>
<text y="372.2" font-size="7.31" fill="#0000cd" stroke="#0000cd" stroke-width="0.08" transform="matrix(1.11410 0.00100 0 1 -28.1826 -0.3108)"><tspan x="246.53 250.52" font-style="italic">SO</tspan><tspan x="255.74 261.41 267.34 270.22 274.89 278.86 280.8 284.74 288.68 292.68">4=(−0.000)</tspan><tspan x="295.11" font-style="italic">x</tspan><tspan x="300.43 306.36 308.72 312.69 314.63 318.57 322.51 326.51 328.9">+(0.047),</tspan><tspan x="331.62" font-style="italic">R</tspan><tspan x="338.08 345.68 351.55 355.52 357.46 361.4">=−0.04</tspan></text>
<g clip-path="url(#c8)">
<path fill="#000000" stroke="#000000" stroke-width="0.0" d="M499 382.8L496.8 387L501.2 387ZM503.8 385.7L501.6 389.9L506 389.9ZM504.7 387.6L502.5 391.8L506.9 391.8ZM506.1 389.9L503.9 394.1L508.3 394.1ZM496.6 390.4L494.4 394.6L498.8 394.6ZM511.3 382.8L509.1 387L513.5 387ZM511.8 384.2L509.6 388.4L514 388.4ZM520.4 377.1L518.2 381.3L522.6 381.3ZM521.3 383.8L519.1 388L523.5 388ZM518 389.9L515.8 394.1L520.2 394.1ZM528 381.4L525.8 385.6L530.2 385.6ZM530.8 380.9L528.6 385.1L533 385.1ZM536.5 381.9L534.3 386.1L538.7 386.1ZM546.5 379L544.3 383.2L548.7 383.2ZM547.4 385.7L545.2 389.9L549.6 389.9ZM495.2 396.6L493 400.8L497.4 400.8ZM495.7 399.4L493.5 403.6L497.9 403.6ZM500.4 399.9L498.2 404.1L502.6 404.1ZM502.3 398.5L500.1 402.7L504.5 402.7ZM503.8 394.7L501.6 398.9L506 398.9ZM517.5 398.5L515.3 402.7L519.7 402.7ZM512.3 405.6L510.1 409.8L514.5 409.8ZM517.5 406.5L515.3 410.7L519.7 410.7ZM521.3 402.3L519.1 406.5L523.5 406.5ZM523.2 400.4L521 404.6L525.4 404.6ZM524.6 398.9L522.4 403.1L526.8 403.1ZM521.3 405.6L519.1 409.8L523.5 409.8ZM546.9 395.6L544.7 399.8L549.1 399.8ZM546.9 400.4L544.7 404.6L549.1 404.6ZM548.8 398.5L546.6 402.7L551 402.7ZM549.8 401.3L547.6 405.5L552 405.5ZM547.9 403.2L545.7 407.4L550.1 407.4ZM550.7 399.4L548.5 403.6L552.9 403.6Z"/>
<line x1="445" y1="393.2" x2="609" y2="398.8" stroke="#000000" stroke-width="0.9"/>
<path fill="#ff0000" stroke="#ff0000" stroke-width="0.0" d="M494.5 447.8L492.3 452L496.7 452ZM497 447.8L494.8 452L499.2 452ZM499.5 447.8L497.3 452L501.7 452ZM502 447.8L499.8 452L504.2 452ZM504.5 447.8L502.3 452L506.7 452ZM507 447.8L504.8 452L509.2 452ZM512.3 447.8L510.1 452L514.5 452ZM515 447.8L512.8 452L517.2 452ZM518.5 447.8L516.3 452L520.7 452ZM521 447.8L518.8 452L523.2 452ZM523.5 447.8L521.3 452L525.7 452ZM528 447.8L525.8 452L530.2 452ZM530.5 447.8L528.3 452L532.7 452ZM533 447.8L530.8 452L535.2 452ZM536.5 447.8L534.3 452L538.7 452ZM546.5 447.8L544.3 452L548.7 452ZM549 447.8L546.8 452L551.2 452ZM551.5 447.8L549.3 452L553.7 452Z"/>
<line x1="445" y1="449.6" x2="609" y2="449.8" stroke="#ff0000" stroke-width="0.9"/>
<path fill="#32cd32" stroke="#32cd32" stroke-width="0.0" d="M503.8 435.9L501.6 440.1L506 440.1ZM517.5 434.9L515.3 439.1L519.7 439.1ZM524.2 435.9L522 440.1L526.4 440.1ZM511.3 438.2L509.1 442.4L513.5 442.4ZM506.1 443.9L503.9 448.1L508.3 448.1ZM496.6 445.3L494.4 449.5L498.8 449.5ZM521.3 443.9L519.1 448.1L523.5 448.1ZM528 444.9L525.8 449.1L530.2 449.1ZM536.5 445.3L534.3 449.5L538.7 449.5ZM546.9 443L544.7 447.2L549.1 447.2ZM549.8 439.2L547.6 443.4L552 443.4ZM500 444.9L497.8 449.1L502.2 449.1ZM508 442.9L505.8 447.1L510.2 447.1ZM514 444.4L511.8 448.6L516.2 448.6ZM520 441.9L517.8 446.1L522.2 446.1ZM531 443.9L528.8 448.1L533.2 448.1ZM549 441.9L546.8 446.1L551.2 446.1Z"/>
<line x1="445" y1="445.3" x2="609" y2="440.9" stroke="#32cd32" stroke-width="0.9"/>
<path fill="#ff8c00" stroke="#ff8c00" stroke-width="0.0" d="M496.6 443L494.4 447.2L498.8 447.2ZM501.4 443.5L499.2 447.7L503.6 447.7ZM512.3 444.9L510.1 449.1L514.5 449.1ZM518.5 443.5L516.3 447.7L520.7 447.7ZM522.7 444.4L520.5 448.6L524.9 448.6ZM529.8 442L527.6 446.2L532 446.2ZM530.8 440.1L528.6 444.3L533 444.3ZM536.5 443L534.3 447.2L538.7 447.2ZM546.9 442L544.7 446.2L549.1 446.2ZM549.8 444.9L547.6 449.1L552 449.1ZM494 444.4L491.8 448.6L496.2 448.6ZM498 444.7L495.8 448.9L500.2 448.9ZM504 444.2L501.8 448.4L506.2 448.4ZM507 443.7L504.8 447.9L509.2 447.9ZM515 444.4L512.8 448.6L517.2 448.6ZM526 443.9L523.8 448.1L528.2 448.1ZM533 444.4L530.8 448.6L535.2 448.6ZM548 444.4L545.8 448.6L550.2 448.6Z"/>
<line x1="445" y1="441.5" x2="609" y2="450.4" stroke="#ff8c00" stroke-width="0.9"/>
<path fill="#ffd700" stroke="#ffd700" stroke-width="0.0" d="M495.7 440.1L493.5 444.3L497.9 444.3ZM499.5 439.2L497.3 443.4L501.7 443.4ZM503.3 439.7L501.1 443.9L505.5 443.9ZM505 439.2L502.8 443.4L507.2 443.4ZM512.3 434.9L510.1 439.1L514.5 439.1ZM510.4 439.2L508.2 443.4L512.6 443.4ZM520.8 434.9L518.6 439.1L523 439.1ZM518.5 439.2L516.3 443.4L520.7 443.4ZM527.5 431.6L525.3 435.8L529.7 435.8ZM530.3 433.5L528.1 437.7L532.5 437.7ZM536.5 433.5L534.3 437.7L538.7 437.7ZM531.3 435.9L529.1 440.1L533.5 440.1ZM546.9 433.5L544.7 437.7L549.1 437.7ZM549.8 435.4L547.6 439.6L552 439.6ZM546.9 436.9L544.7 441.1L549.1 441.1ZM495.7 443.5L493.5 447.7L497.9 447.7ZM499.5 443.5L497.3 447.7L501.7 447.7ZM494 440.9L491.8 445.1L496.2 445.1ZM497 441.9L494.8 446.1L499.2 446.1ZM500 441.4L497.8 445.6L502.2 445.6ZM503 442.4L500.8 446.6L505.2 446.6ZM506 440.9L503.8 445.1L508.2 445.1ZM498 438.9L495.8 443.1L500.2 443.1ZM502 438.7L499.8 442.9L504.2 442.9ZM515 438.4L512.8 442.6L517.2 442.6ZM522 437.9L519.8 442.1L524.2 442.1ZM533 435.4L530.8 439.6L535.2 439.6ZM548 438.9L545.8 443.1L550.2 443.1Z"/>
<line x1="445" y1="449.4" x2="609" y2="431.9" stroke="#ffd700" stroke-width="0.9"/>
<path fill="#0000cd" stroke="#0000cd" stroke-width="0.0" d="M496.6 413.3L494.4 417.5L498.8 417.5ZM499 411.9L496.8 416.1L501.2 416.1ZM503.8 411L501.6 415.2L506 415.2ZM505.2 413.3L503 417.5L507.4 417.5ZM506.1 414.3L503.9 418.5L508.3 418.5ZM511.3 410L509.1 414.2L513.5 414.2ZM511.8 411.9L509.6 416.1L514 416.1ZM510.9 412.9L508.7 417.1L513.1 417.1ZM520.4 408.1L518.2 412.3L522.6 412.3ZM521.3 411.9L519.1 416.1L523.5 416.1ZM518 413.8L515.8 418L520.2 418ZM528 411L525.8 415.2L530.2 415.2ZM530.8 410L528.6 414.2L533 414.2ZM536.5 410L534.3 414.2L538.7 414.2ZM546.5 408.1L544.3 412.3L548.7 412.3ZM547.4 412.9L545.2 417.1L549.6 417.1ZM495.2 419.5L493 423.7L497.4 423.7ZM495.7 420.9L493.5 425.1L497.9 425.1ZM500.4 420L498.2 424.2L502.6 424.2ZM502.8 419L500.6 423.2L505 423.2ZM503.8 420L501.6 424.2L506 424.2ZM512.3 426.6L510.1 430.8L514.5 430.8ZM517.5 423.8L515.3 428L519.7 428ZM517.5 425.7L515.3 429.9L519.7 429.9ZM520.8 425.7L518.6 429.9L523 429.9ZM523.2 424.7L521 428.9L525.4 428.9ZM524.6 424.2L522.4 428.4L526.8 428.4ZM521.3 427.1L519.1 431.3L523.5 431.3ZM546 425.7L543.8 429.9L548.2 429.9ZM547.9 425.2L545.7 429.4L550.1 429.4ZM549.8 426.1L547.6 430.3L552 430.3ZM550.7 427.1L548.5 431.3L552.9 431.3Z"/>
<line x1="445" y1="412" x2="609" y2="431.4" stroke="#0000cd" stroke-width="0.9"/>
</g>
<rect x="445" y="330.5" width="164" height="121" fill="none" stroke="#333" stroke-width="1.0"/>
<path d="M445 451.5v3.8M445 330.5v-3.8M477.8 451.5v3.8M477.8 330.5v-3.8M510.6 451.5v3.8M510.6 330.5v-3.8M543.4 451.5v3.8M543.4 330.5v-3.8M576.2 451.5v3.8M576.2 330.5v-3.8M609 451.5v3.8M609 330.5v-3.8M445 451.5h-3.8M609 451.5h3.8M445 421.25h-3.8M609 421.25h3.8M445 391h-3.8M609 391h3.8M445 360.75h-3.8M609 360.75h3.8M445 330.5h-3.8M609 330.5h3.8" stroke="#000" stroke-width="0.8" fill="none"/>
<path d="M445 451.5v2.3M445 330.5v-2.3M461.4 451.5v2.3M461.4 330.5v-2.3M477.8 451.5v2.3M477.8 330.5v-2.3M494.2 451.5v2.3M494.2 330.5v-2.3M510.6 451.5v2.3M510.6 330.5v-2.3M527 451.5v2.3M527 330.5v-2.3M543.4 451.5v2.3M543.4 330.5v-2.3M559.8 451.5v2.3M559.8 330.5v-2.3M576.2 451.5v2.3M576.2 330.5v-2.3M592.6 451.5v2.3M592.6 330.5v-2.3M609 451.5v2.3M609 330.5v-2.3M445 445.45h-2.3M609 445.45h2.3M445 439.4h-2.3M609 439.4h2.3M445 433.35h-2.3M609 433.35h2.3M445 427.3h-2.3M609 427.3h2.3M445 415.2h-2.3M609 415.2h2.3M445 409.15h-2.3M609 409.15h2.3M445 403.1h-2.3M609 403.1h2.3M445 397.05h-2.3M609 397.05h2.3M445 384.95h-2.3M609 384.95h2.3M445 378.9h-2.3M609 378.9h2.3M445 372.85h-2.3M609 372.85h2.3M445 366.8h-2.3M609 366.8h2.3M445 354.7h-2.3M609 354.7h2.3M445 348.65h-2.3M609 348.65h2.3M445 342.6h-2.3M609 342.6h2.3M445 336.55h-2.3M609 336.55h2.3" stroke="#000" stroke-width="0.6" fill="none"/>
<text y="463.7" font-size="7.21" fill="#000" stroke="#000" stroke-width="0.2" transform="matrix(1.18027 0.00100 0 1 -79.3653 -0.4426)"><tspan x="440.27 444.28" font-weight="bold">30</tspan></text>
<text y="463.7" font-size="7.21" fill="#000" stroke="#000" stroke-width="0.2" transform="matrix(1.18027 0.00100 0 1 -85.2780 -0.4754)"><tspan x="473.07 477.08" font-weight="bold">32</tspan></text>
<text y="463.7" font-size="7.21" fill="#000" stroke="#000" stroke-width="0.2" transform="matrix(1.18027 0.00100 0 1 -91.1908 -0.5082)"><tspan x="505.87 509.88" font-weight="bold">34</tspan></text>
<text y="463.7" font-size="7.21" fill="#000" stroke="#000" stroke-width="0.2" transform="matrix(1.18027 0.00100 0 1 -97.1035 -0.5410)"><tspan x="538.67 542.68" font-weight="bold">36</tspan></text>
<text y="463.7" font-size="7.21" fill="#000" stroke="#000" stroke-width="0.2" transform="matrix(1.18027 0.00100 0 1 -103.0162 -0.5738)"><tspan x="571.47 575.48" font-weight="bold">38</tspan></text>
<text y="463.7" font-size="7.21" fill="#000" stroke="#000" stroke-width="0.2" transform="matrix(1.18027 0.00100 0 1 -108.9289 -0.6066)"><tspan x="604.27 608.28" font-weight="bold">40</tspan></text>
<text y="454.5" font-size="7.21" fill="#000" stroke="#000" stroke-width="0.2" transform="matrix(1.19592 0.00100 0 1 -82.5865 -0.4275)"><tspan x="421.5 425.56 427.61 431.57" font-weight="bold">0.00</tspan></text>
<text y="424.25" font-size="7.21" fill="#000" stroke="#000" stroke-width="0.2" transform="matrix(1.19592 0.00100 0 1 -82.5865 -0.4275)"><tspan x="421.5 425.56 427.61 431.57" font-weight="bold">0.05</tspan></text>
<text y="394" font-size="7.21" fill="#000" stroke="#000" stroke-width="0.2" transform="matrix(1.19592 0.00100 0 1 -82.5865 -0.4275)"><tspan x="421.5 425.56 427.61 431.57" font-weight="bold">0.10</tspan></text>
<text y="363.75" font-size="7.21" fill="#000" stroke="#000" stroke-width="0.2" transform="matrix(1.19592 0.00100 0 1 -82.5865 -0.4275)"><tspan x="421.5 425.56 427.61 431.57" font-weight="bold">0.15</tspan></text>
<text y="333.5" font-size="7.21" fill="#000" stroke="#000" stroke-width="0.2" transform="matrix(1.19592 0.00100 0 1 -82.5865 -0.4275)"><tspan x="421.5 425.56 427.61 431.57" font-weight="bold">0.20</tspan></text>
<text y="472.8" font-size="7.21" fill="#000" stroke="#000" stroke-width="0.2" transform="matrix(1.13721 0.00100 0 1 -66.5495 -0.5254)"><tspan x="484.71 489.63 493.69 495.73 499.98 502.63 504.6 508.58 514.59 519.63 523.87 530.21 532.17 536.54 538.79 541.37 547.57 549.93 556.29" font-weight="bold">RelativeHumidity(%)</tspan></text>
<text y="323.5" font-size="7.21" fill="#000" stroke="#000" stroke-width="0.2" transform="matrix(1.14494 0.00100 0 1 -69.0762 -0.5254)"><tspan x="476.75 479.33 481.5 485.95 490.02 493.69 496.31 500.34 504.58 506.87 511.34 515.73 518.61 520.54 524.78 529.49 533.82 538.28 542.48 548.67 554.98 559.06 562.08" font-weight="bold">(i)Total(Spring+Summer)</tspan></text>
<g transform="translate(417.6 391) rotate(-90)"><text y="0" font-size="7.21" fill="#000" stroke="#000" stroke-width="0.2" transform="matrix(1.04186 0.00100 0 1 0.3492 0.0028)"><tspan x="-8.42 -3.32 2.36" font-weight="bold">AOD</tspan></text></g>
<text y="341.95" font-size="7.31" fill="#000000" stroke="#000000" stroke-width="0.08" transform="matrix(1.10676 0.00100 0 1 -48.3616 -0.5260)"><tspan x="452.67 456.68 460.83 462.94 466.94 468.31 472.49 477.55" font-style="italic">TotalAOD</tspan><tspan x="484.28 490.24 493.15 497.85 501.84 503.8 507.77 511.73 515.75">=(−0.001)</tspan><tspan x="518.2" font-style="italic">x</tspan><tspan x="523.56 529.52 531.91 535.9 537.85 541.82 545.79 549.8 552.21">+(0.126),</tspan><tspan x="554.96" font-style="italic">R</tspan><tspan x="561.46 569.11 575.02 579.01 580.97 584.93">=−0.08</tspan></text>
<text y="348" font-size="7.31" fill="#ff0000" stroke="#ff0000" stroke-width="0.08" transform="matrix(1.11736 0.00100 0 1 -53.1637 -0.5144)"><tspan x="452.68 456.75" font-style="italic">BC</tspan><tspan x="463.2 469.12 471.99 476.64 480.61 482.53 486.46 490.39 494.38">=(−0.000)</tspan><tspan x="496.8" font-style="italic">x</tspan><tspan x="502.11 508.02 510.37 514.34 516.27 520.2 524.12 528.11 530.5">+(0.004),</tspan><tspan x="533.2" font-style="italic">R</tspan><tspan x="539.64 547.22 553.08 557.04 558.97 562.9">=−0.11</tspan></text>
<text y="354.05" font-size="7.31" fill="#32cd32" stroke="#32cd32" stroke-width="0.08" transform="matrix(1.10865 0.00100 0 1 -49.2180 -0.5105)"><tspan x="452.6 457.59" font-style="italic">OA</tspan><tspan x="463.84 469.79 472.17 476.16 478.11 482.07 486.03 490.04">=(0.001)</tspan><tspan x="492.48" font-style="italic">x</tspan><tspan x="497.84 503.79 506.69 511.38 515.37 517.32 521.28 525.24 529.25 531.65">+(−0.013),</tspan><tspan x="534.39" font-style="italic">R</tspan><tspan x="540.88 546.78 550.77 552.72 556.68">=0.17</tspan></text>
<text y="360.1" font-size="7.31" fill="#ff8c00" stroke="#ff8c00" stroke-width="0.08" transform="matrix(1.12648 0.00100 0 1 -57.2941 -0.5177)"><tspan x="452.72 457.62 461.37 464.97" font-style="italic">Dust</tspan><tspan x="468.82 474.69 477.53 482.15 486.09 487.99 491.89 495.79 499.75">=(−0.001)</tspan><tspan x="502.14" font-style="italic">x</tspan><tspan x="507.41 513.28 515.61 519.55 521.45 525.35 529.24 533.2 535.57">+(0.061),</tspan><tspan x="538.24" font-style="italic">R</tspan><tspan x="544.64 552.16 557.97 561.91 563.81 567.71">=−0.51</tspan></text>
<text y="366.15" font-size="7.31" fill="#ffd700" stroke="#ffd700" stroke-width="0.08" transform="matrix(1.10364 0.00100 0 1 -46.9495 -0.5098)"><tspan x="452.55 456.51" font-style="italic">SS</tspan><tspan x="462.64 468.61 471.01 475.01 476.97 480.95 484.93 488.95">=(0.003)</tspan><tspan x="491.41" font-style="italic">x</tspan><tspan x="496.79 502.76 505.69 510.4 514.4 516.36 520.34 524.32 528.34 530.76">+(−0.090),</tspan><tspan x="533.51" font-style="italic">R</tspan><tspan x="540.03 545.96 549.96 551.92 555.9">=0.66</tspan></text>
<text y="372.2" font-size="7.31" fill="#0000cd" stroke="#0000cd" stroke-width="0.08" transform="matrix(1.11410 0.00100 0 1 -51.6872 -0.5168)"><tspan x="452.53 456.52" font-style="italic">SO</tspan><tspan x="461.74 467.41 473.34 476.22 480.89 484.86 486.8 490.74 494.68 498.68">4=(−0.003)</tspan><tspan x="501.11" font-style="italic">x</tspan><tspan x="506.43 512.36 514.72 518.69 520.63 524.57 528.51 532.51 534.9">+(0.164),</tspan><tspan x="537.62" font-style="italic">R</tspan><tspan x="544.08 551.68 557.55 561.52 563.46 567.4">=−0.33</tspan></text>
<rect x="614.1" y="198.2" width="70.3" height="75.5" rx="2" fill="#d5d5d5" stroke="#cccccc" stroke-width="0.8"/>
<line x1="617.3" y1="205.2" x2="634.7" y2="205.2" stroke="#000000" stroke-width="0.9"/>
<text y="208.2" font-size="8.59" fill="#000000" stroke="#000000" stroke-width="0.08" transform="matrix(1.01999 0.00100 0 1 -12.8199 -0.6580)"><tspan x="641.2 646.29 650.12 652.92 657.89 662.32 667.69 673.97">TotalAOD</tspan></text>
<line x1="617.3" y1="217.38" x2="634.7" y2="217.38" stroke="#ff0000" stroke-width="0.9"/>
<text y="220.38" font-size="8.59" fill="#ff0000" stroke="#ff0000" stroke-width="0.08" transform="matrix(1.00000 0.00100 0 1 0.0000 -0.6442)"><tspan x="641.31 646.68">BC</tspan></text>
<line x1="617.3" y1="229.56" x2="634.7" y2="229.56" stroke="#32cd32" stroke-width="0.9"/>
<text y="232.56" font-size="8.59" fill="#32cd32" stroke="#32cd32" stroke-width="0.08" transform="matrix(1.00000 0.00100 0 1 0.0000 -0.6446)"><tspan x="641.25 647.68">OA</tspan></text>
<line x1="617.3" y1="241.74" x2="634.7" y2="241.74" stroke="#ff8c00" stroke-width="0.9"/>
<text y="244.74" font-size="8.59" fill="#ff8c00" stroke="#ff8c00" stroke-width="0.08" transform="matrix(1.06303 0.00100 0 1 -40.4290 -0.6492)"><tspan x="641.23 647.29 651.94 656.37">Dust</tspan></text>
<line x1="617.3" y1="253.92" x2="634.7" y2="253.92" stroke="#ffd700" stroke-width="0.9"/>
<text y="256.92" font-size="8.59" fill="#ffd700" stroke="#ffd700" stroke-width="0.08" transform="matrix(1.00000 0.00100 0 1 0.0000 -0.6440)"><tspan x="641.11 646.25">SS</tspan></text>
<line x1="617.3" y1="266.1" x2="634.7" y2="266.1" stroke="#0000cd" stroke-width="0.9"/>
<text y="269.1" font-size="8.59" fill="#0000cd" stroke="#0000cd" stroke-width="0.08" transform="matrix(1.00000 0.00100 0 1 0.0000 -0.6472)"><tspan x="641.11 646.39 653.11">SO4</tspan></text>
</g>
</svg>
</body></html>
